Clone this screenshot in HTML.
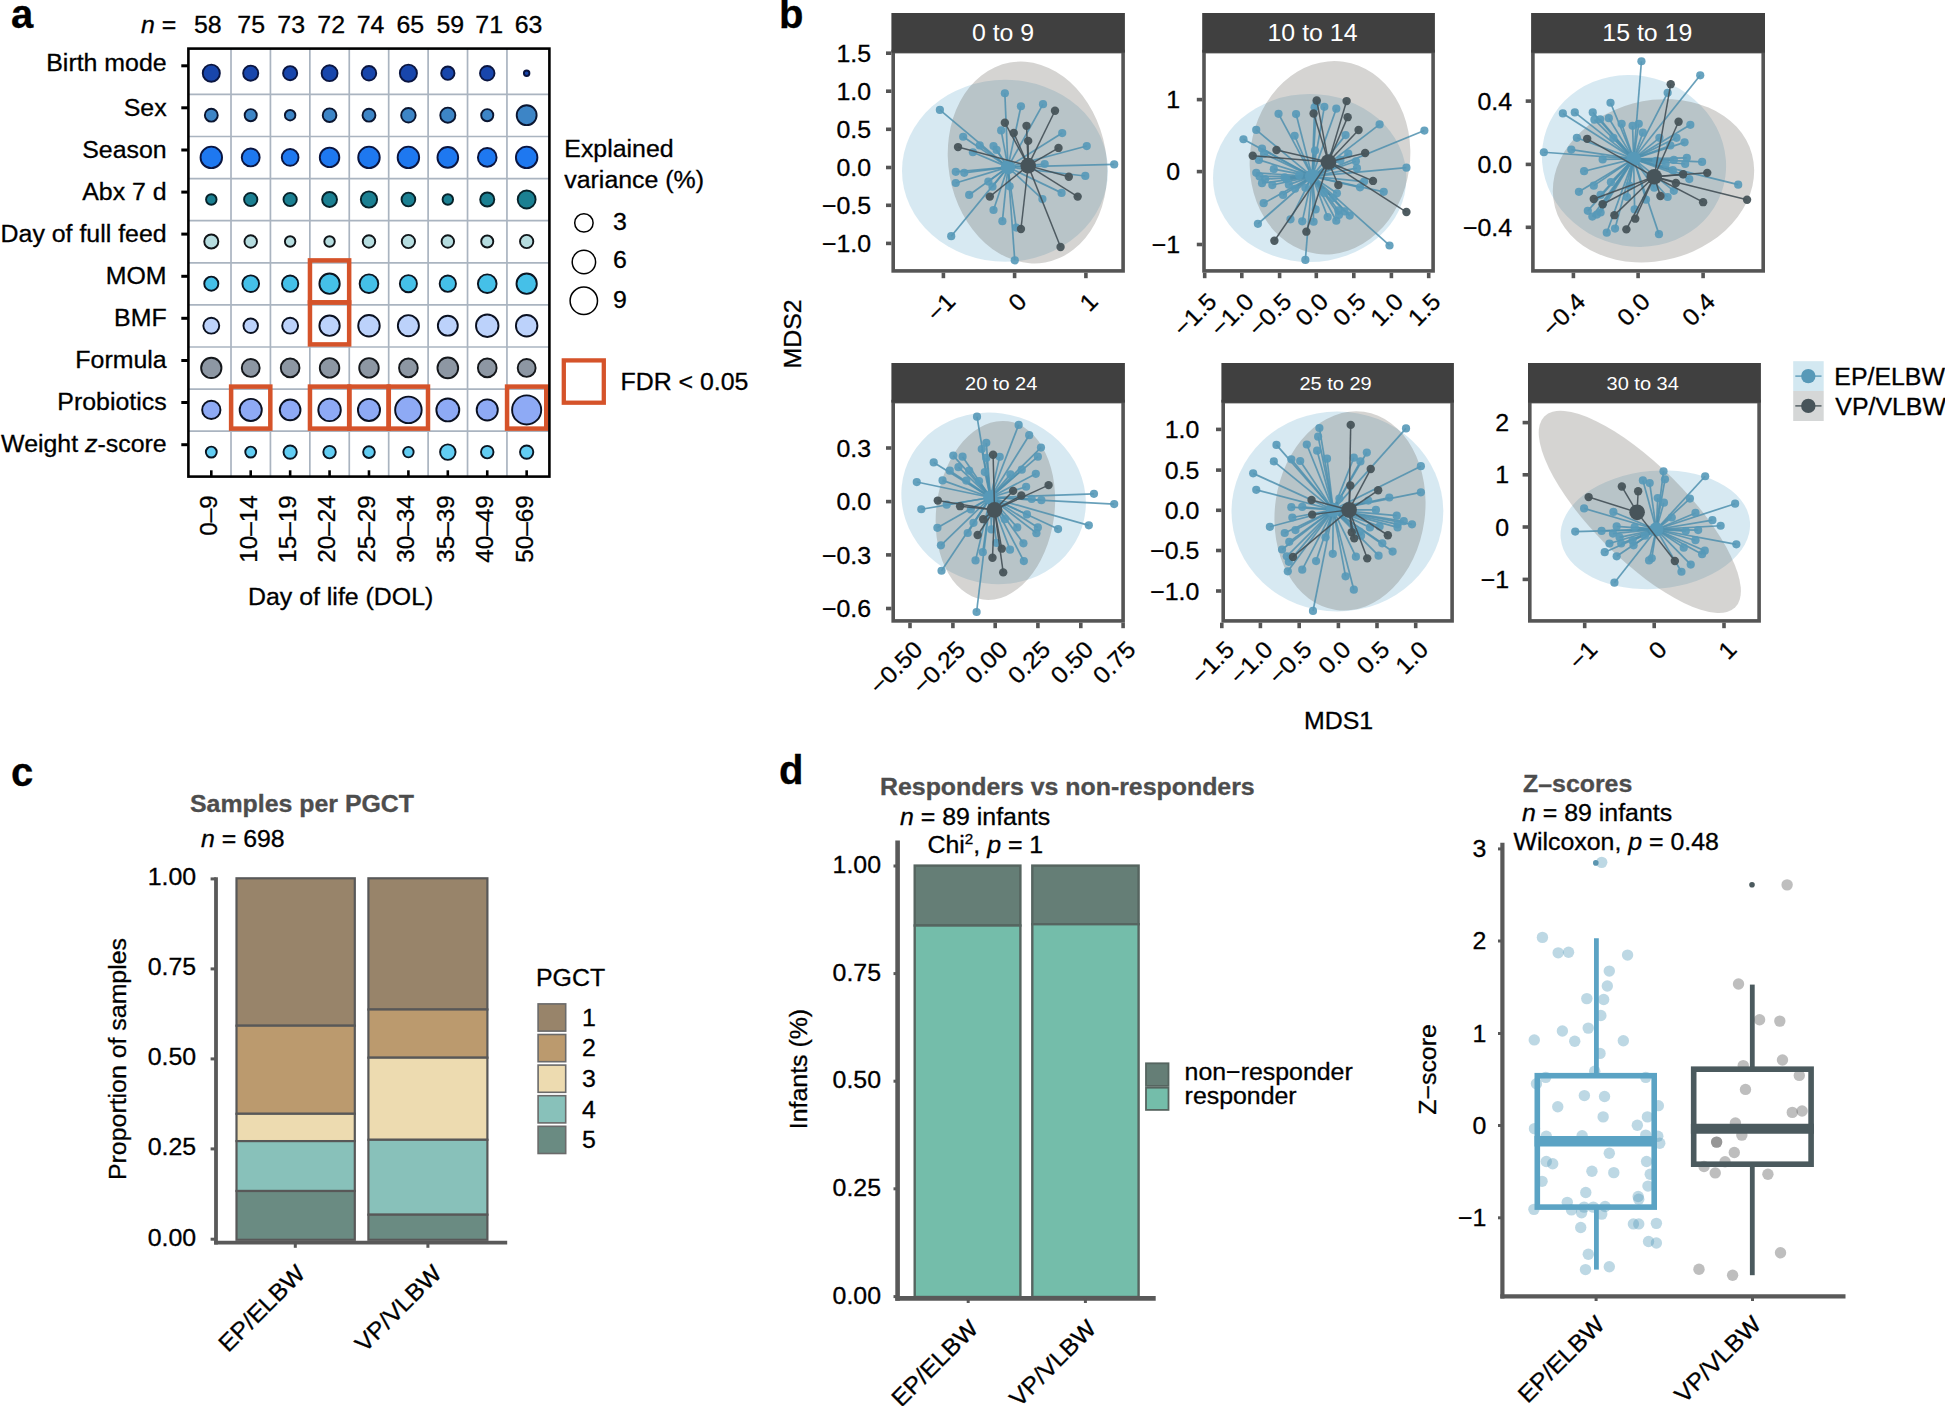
<!DOCTYPE html>
<html lang="en">
<head>
<meta charset="utf-8">
<title>Figure</title>
<style>
html,body{margin:0;padding:0;background:#fff;}
body{width:1945px;height:1406px;overflow:hidden;}
svg{display:block;font-family:"Liberation Sans",sans-serif;}
text{stroke-width:0.3px;}
</style>
</head>
<body>
<svg width="1945" height="1406" viewBox="0 0 1945 1406">
<rect width="1945" height="1406" fill="#fff"/>
<g id="panel-a">
<text font-size="40" font-weight="bold" stroke="#000" transform="translate(11 28) scale(1 1)">a</text>
<rect x="188.4" y="48.6" width="361" height="428" fill="#fff"/>
<line x1="231.01" y1="48.6" x2="231.01" y2="476.6" stroke="#aab4c0" stroke-width="1.7"/>
<line x1="270.43" y1="48.6" x2="270.43" y2="476.6" stroke="#aab4c0" stroke-width="1.7"/>
<line x1="309.85" y1="48.6" x2="309.85" y2="476.6" stroke="#aab4c0" stroke-width="1.7"/>
<line x1="349.27" y1="48.6" x2="349.27" y2="476.6" stroke="#aab4c0" stroke-width="1.7"/>
<line x1="388.69" y1="48.6" x2="388.69" y2="476.6" stroke="#aab4c0" stroke-width="1.7"/>
<line x1="428.11" y1="48.6" x2="428.11" y2="476.6" stroke="#aab4c0" stroke-width="1.7"/>
<line x1="467.53" y1="48.6" x2="467.53" y2="476.6" stroke="#aab4c0" stroke-width="1.7"/>
<line x1="506.95" y1="48.6" x2="506.95" y2="476.6" stroke="#aab4c0" stroke-width="1.7"/>
<line x1="188.4" y1="94.4" x2="549.4" y2="94.4" stroke="#aab4c0" stroke-width="1.7"/>
<line x1="188.4" y1="136.5" x2="549.4" y2="136.5" stroke="#aab4c0" stroke-width="1.7"/>
<line x1="188.4" y1="178.65" x2="549.4" y2="178.65" stroke="#aab4c0" stroke-width="1.7"/>
<line x1="188.4" y1="220.7" x2="549.4" y2="220.7" stroke="#aab4c0" stroke-width="1.7"/>
<line x1="188.4" y1="262.8" x2="549.4" y2="262.8" stroke="#aab4c0" stroke-width="1.7"/>
<line x1="188.4" y1="304.9" x2="549.4" y2="304.9" stroke="#aab4c0" stroke-width="1.7"/>
<line x1="188.4" y1="347" x2="549.4" y2="347" stroke="#aab4c0" stroke-width="1.7"/>
<line x1="188.4" y1="389.1" x2="549.4" y2="389.1" stroke="#aab4c0" stroke-width="1.7"/>
<line x1="188.4" y1="431.2" x2="549.4" y2="431.2" stroke="#aab4c0" stroke-width="1.7"/>
<text font-size="23.71" stroke="#000" transform="translate(141 32.8) scale(1.05 1)"><tspan font-style="italic">n</tspan> =</text>
<text font-size="23.71" text-anchor="middle" stroke="#000" transform="translate(207.75 32.8) scale(1.05 1)">58</text>
<text font-size="23.71" text-anchor="middle" stroke="#000" transform="translate(251.2 32.8) scale(1.05 1)">75</text>
<text font-size="23.71" text-anchor="middle" stroke="#000" transform="translate(291.2 32.8) scale(1.05 1)">73</text>
<text font-size="23.71" text-anchor="middle" stroke="#000" transform="translate(331.2 32.8) scale(1.05 1)">72</text>
<text font-size="23.71" text-anchor="middle" stroke="#000" transform="translate(370.6 32.8) scale(1.05 1)">74</text>
<text font-size="23.71" text-anchor="middle" stroke="#000" transform="translate(410.3 32.8) scale(1.05 1)">65</text>
<text font-size="23.71" text-anchor="middle" stroke="#000" transform="translate(450.3 32.8) scale(1.05 1)">59</text>
<text font-size="23.71" text-anchor="middle" stroke="#000" transform="translate(489.2 32.8) scale(1.05 1)">71</text>
<text font-size="23.71" text-anchor="middle" stroke="#000" transform="translate(528.6 32.8) scale(1.05 1)">63</text>
<text font-size="23.71" text-anchor="end" stroke="#000" transform="translate(166.6 71.2) scale(1.05 1)">Birth mode</text>
<line x1="181.3" y1="65.8" x2="188.4" y2="65.8" stroke="#000" stroke-width="3"/>
<text font-size="23.71" text-anchor="end" stroke="#000" transform="translate(166.6 115.9) scale(1.05 1)">Sex</text>
<line x1="181.3" y1="107.8" x2="188.4" y2="107.8" stroke="#000" stroke-width="3"/>
<text font-size="23.71" text-anchor="end" stroke="#000" transform="translate(166.6 158) scale(1.05 1)">Season</text>
<line x1="181.3" y1="150" x2="188.4" y2="150" stroke="#000" stroke-width="3"/>
<text font-size="23.71" text-anchor="end" stroke="#000" transform="translate(166.6 200) scale(1.05 1)">Abx 7 d</text>
<line x1="181.3" y1="192.1" x2="188.4" y2="192.1" stroke="#000" stroke-width="3"/>
<text font-size="23.71" text-anchor="end" stroke="#000" transform="translate(166.6 241.9) scale(1.05 1)">Day of full feed</text>
<line x1="181.3" y1="234.1" x2="188.4" y2="234.1" stroke="#000" stroke-width="3"/>
<text font-size="23.71" text-anchor="end" stroke="#000" transform="translate(166.6 283.9) scale(1.05 1)">MOM</text>
<line x1="181.3" y1="276.3" x2="188.4" y2="276.3" stroke="#000" stroke-width="3"/>
<text font-size="23.71" text-anchor="end" stroke="#000" transform="translate(166.6 326) scale(1.05 1)">BMF</text>
<line x1="181.3" y1="318.3" x2="188.4" y2="318.3" stroke="#000" stroke-width="3"/>
<text font-size="23.71" text-anchor="end" stroke="#000" transform="translate(166.6 368) scale(1.05 1)">Formula</text>
<line x1="181.3" y1="360.5" x2="188.4" y2="360.5" stroke="#000" stroke-width="3"/>
<text font-size="23.71" text-anchor="end" stroke="#000" transform="translate(166.6 410) scale(1.05 1)">Probiotics</text>
<line x1="181.3" y1="402.5" x2="188.4" y2="402.5" stroke="#000" stroke-width="3"/>
<text font-size="23.71" text-anchor="end" stroke="#000" transform="translate(166.6 452) scale(1.05 1)">Weight <tspan font-style="italic">z</tspan>-score</text>
<line x1="181.3" y1="444.7" x2="188.4" y2="444.7" stroke="#000" stroke-width="3"/>
<line x1="211.3" y1="470.3" x2="211.3" y2="476.6" stroke="#000" stroke-width="2.6"/>
<line x1="250.72" y1="470.3" x2="250.72" y2="476.6" stroke="#000" stroke-width="2.6"/>
<line x1="290.14" y1="470.3" x2="290.14" y2="476.6" stroke="#000" stroke-width="2.6"/>
<line x1="329.56" y1="470.3" x2="329.56" y2="476.6" stroke="#000" stroke-width="2.6"/>
<line x1="368.98" y1="470.3" x2="368.98" y2="476.6" stroke="#000" stroke-width="2.6"/>
<line x1="408.4" y1="470.3" x2="408.4" y2="476.6" stroke="#000" stroke-width="2.6"/>
<line x1="447.82" y1="470.3" x2="447.82" y2="476.6" stroke="#000" stroke-width="2.6"/>
<line x1="487.24" y1="470.3" x2="487.24" y2="476.6" stroke="#000" stroke-width="2.6"/>
<line x1="526.66" y1="470.3" x2="526.66" y2="476.6" stroke="#000" stroke-width="2.6"/>
<circle cx="211.3" cy="73.2" r="8.55" fill="#1846ac" stroke="#0a1540" stroke-width="1.9"/>
<circle cx="250.72" cy="73.2" r="7.55" fill="#1846ac" stroke="#0a1540" stroke-width="1.9"/>
<circle cx="290.14" cy="73.2" r="7.05" fill="#1846ac" stroke="#0a1540" stroke-width="1.9"/>
<circle cx="329.56" cy="73.2" r="7.95" fill="#1846ac" stroke="#0a1540" stroke-width="1.9"/>
<circle cx="368.98" cy="73.2" r="7.25" fill="#1846ac" stroke="#0a1540" stroke-width="1.9"/>
<circle cx="408.4" cy="73.2" r="8.55" fill="#1846ac" stroke="#0a1540" stroke-width="1.9"/>
<circle cx="447.82" cy="73.2" r="6.65" fill="#1846ac" stroke="#0a1540" stroke-width="1.9"/>
<circle cx="487.24" cy="73.2" r="7.25" fill="#1846ac" stroke="#0a1540" stroke-width="1.9"/>
<circle cx="526.66" cy="73.2" r="2.75" fill="#1846ac" stroke="#0a1540" stroke-width="1.9"/>
<circle cx="211.3" cy="115.2" r="6.45" fill="#3d85c6" stroke="#0a1530" stroke-width="1.9"/>
<circle cx="250.72" cy="115.2" r="6.05" fill="#3d85c6" stroke="#0a1530" stroke-width="1.9"/>
<circle cx="290.14" cy="115.2" r="5.25" fill="#3d85c6" stroke="#0a1530" stroke-width="1.9"/>
<circle cx="329.56" cy="115.2" r="6.85" fill="#3d85c6" stroke="#0a1530" stroke-width="1.9"/>
<circle cx="368.98" cy="115.2" r="6.45" fill="#3d85c6" stroke="#0a1530" stroke-width="1.9"/>
<circle cx="408.4" cy="115.2" r="7.25" fill="#3d85c6" stroke="#0a1530" stroke-width="1.9"/>
<circle cx="447.82" cy="115.2" r="7.55" fill="#3d85c6" stroke="#0a1530" stroke-width="1.9"/>
<circle cx="487.24" cy="115.2" r="6.05" fill="#3d85c6" stroke="#0a1530" stroke-width="1.9"/>
<circle cx="526.66" cy="115.2" r="9.95" fill="#3d85c6" stroke="#0a1530" stroke-width="1.9"/>
<circle cx="211.3" cy="157.4" r="10.75" fill="#1e78f0" stroke="#0a1540" stroke-width="1.9"/>
<circle cx="250.72" cy="157.4" r="8.95" fill="#1e78f0" stroke="#0a1540" stroke-width="1.9"/>
<circle cx="290.14" cy="157.4" r="8.35" fill="#1e78f0" stroke="#0a1540" stroke-width="1.9"/>
<circle cx="329.56" cy="157.4" r="9.75" fill="#1e78f0" stroke="#0a1540" stroke-width="1.9"/>
<circle cx="368.98" cy="157.4" r="10.75" fill="#1e78f0" stroke="#0a1540" stroke-width="1.9"/>
<circle cx="408.4" cy="157.4" r="10.75" fill="#1e78f0" stroke="#0a1540" stroke-width="1.9"/>
<circle cx="447.82" cy="157.4" r="10.35" fill="#1e78f0" stroke="#0a1540" stroke-width="1.9"/>
<circle cx="487.24" cy="157.4" r="9.35" fill="#1e78f0" stroke="#0a1540" stroke-width="1.9"/>
<circle cx="526.66" cy="157.4" r="10.75" fill="#1e78f0" stroke="#0a1540" stroke-width="1.9"/>
<circle cx="211.3" cy="199.5" r="5.25" fill="#1b8092" stroke="#06222a" stroke-width="1.9"/>
<circle cx="250.72" cy="199.5" r="6.65" fill="#1b8092" stroke="#06222a" stroke-width="1.9"/>
<circle cx="290.14" cy="199.5" r="6.65" fill="#1b8092" stroke="#06222a" stroke-width="1.9"/>
<circle cx="329.56" cy="199.5" r="7.45" fill="#1b8092" stroke="#06222a" stroke-width="1.9"/>
<circle cx="368.98" cy="199.5" r="8.15" fill="#1b8092" stroke="#06222a" stroke-width="1.9"/>
<circle cx="408.4" cy="199.5" r="6.85" fill="#1b8092" stroke="#06222a" stroke-width="1.9"/>
<circle cx="447.82" cy="199.5" r="5.25" fill="#1b8092" stroke="#06222a" stroke-width="1.9"/>
<circle cx="487.24" cy="199.5" r="7.05" fill="#1b8092" stroke="#06222a" stroke-width="1.9"/>
<circle cx="526.66" cy="199.5" r="8.95" fill="#1b8092" stroke="#06222a" stroke-width="1.9"/>
<circle cx="211.3" cy="241.5" r="7.05" fill="#b6dde0" stroke="#101418" stroke-width="1.9"/>
<circle cx="250.72" cy="241.5" r="6.25" fill="#b6dde0" stroke="#101418" stroke-width="1.9"/>
<circle cx="290.14" cy="241.5" r="5.25" fill="#b6dde0" stroke="#101418" stroke-width="1.9"/>
<circle cx="329.56" cy="241.5" r="5.25" fill="#b6dde0" stroke="#101418" stroke-width="1.9"/>
<circle cx="368.98" cy="241.5" r="6.25" fill="#b6dde0" stroke="#101418" stroke-width="1.9"/>
<circle cx="408.4" cy="241.5" r="6.65" fill="#b6dde0" stroke="#101418" stroke-width="1.9"/>
<circle cx="447.82" cy="241.5" r="6.25" fill="#b6dde0" stroke="#101418" stroke-width="1.9"/>
<circle cx="487.24" cy="241.5" r="6.05" fill="#b6dde0" stroke="#101418" stroke-width="1.9"/>
<circle cx="526.66" cy="241.5" r="6.65" fill="#b6dde0" stroke="#101418" stroke-width="1.9"/>
<circle cx="211.3" cy="283.7" r="7.05" fill="#45c0e8" stroke="#0a1420" stroke-width="1.9"/>
<circle cx="250.72" cy="283.7" r="8.35" fill="#45c0e8" stroke="#0a1420" stroke-width="1.9"/>
<circle cx="290.14" cy="283.7" r="8.15" fill="#45c0e8" stroke="#0a1420" stroke-width="1.9"/>
<circle cx="329.56" cy="283.7" r="10.15" fill="#45c0e8" stroke="#0a1420" stroke-width="1.9"/>
<circle cx="368.98" cy="283.7" r="9.35" fill="#45c0e8" stroke="#0a1420" stroke-width="1.9"/>
<circle cx="408.4" cy="283.7" r="8.55" fill="#45c0e8" stroke="#0a1420" stroke-width="1.9"/>
<circle cx="447.82" cy="283.7" r="8.15" fill="#45c0e8" stroke="#0a1420" stroke-width="1.9"/>
<circle cx="487.24" cy="283.7" r="9.35" fill="#45c0e8" stroke="#0a1420" stroke-width="1.9"/>
<circle cx="526.66" cy="283.7" r="10.15" fill="#45c0e8" stroke="#0a1420" stroke-width="1.9"/>
<circle cx="211.3" cy="325.7" r="7.95" fill="#bcd2fb" stroke="#0a1020" stroke-width="1.9"/>
<circle cx="250.72" cy="325.7" r="7.25" fill="#bcd2fb" stroke="#0a1020" stroke-width="1.9"/>
<circle cx="290.14" cy="325.7" r="7.95" fill="#bcd2fb" stroke="#0a1020" stroke-width="1.9"/>
<circle cx="329.56" cy="325.7" r="10.15" fill="#bcd2fb" stroke="#0a1020" stroke-width="1.9"/>
<circle cx="368.98" cy="325.7" r="10.75" fill="#bcd2fb" stroke="#0a1020" stroke-width="1.9"/>
<circle cx="408.4" cy="325.7" r="10.55" fill="#bcd2fb" stroke="#0a1020" stroke-width="1.9"/>
<circle cx="447.82" cy="325.7" r="9.95" fill="#bcd2fb" stroke="#0a1020" stroke-width="1.9"/>
<circle cx="487.24" cy="325.7" r="11.25" fill="#bcd2fb" stroke="#0a1020" stroke-width="1.9"/>
<circle cx="526.66" cy="325.7" r="10.75" fill="#bcd2fb" stroke="#0a1020" stroke-width="1.9"/>
<circle cx="211.3" cy="367.9" r="10.15" fill="#8d97a3" stroke="#15181c" stroke-width="1.9"/>
<circle cx="250.72" cy="367.9" r="8.95" fill="#8d97a3" stroke="#15181c" stroke-width="1.9"/>
<circle cx="290.14" cy="367.9" r="9.35" fill="#8d97a3" stroke="#15181c" stroke-width="1.9"/>
<circle cx="329.56" cy="367.9" r="9.75" fill="#8d97a3" stroke="#15181c" stroke-width="1.9"/>
<circle cx="368.98" cy="367.9" r="9.75" fill="#8d97a3" stroke="#15181c" stroke-width="1.9"/>
<circle cx="408.4" cy="367.9" r="9.35" fill="#8d97a3" stroke="#15181c" stroke-width="1.9"/>
<circle cx="447.82" cy="367.9" r="10.35" fill="#8d97a3" stroke="#15181c" stroke-width="1.9"/>
<circle cx="487.24" cy="367.9" r="9.35" fill="#8d97a3" stroke="#15181c" stroke-width="1.9"/>
<circle cx="526.66" cy="367.9" r="8.95" fill="#8d97a3" stroke="#15181c" stroke-width="1.9"/>
<circle cx="211.3" cy="409.9" r="9.15" fill="#8eaaf5" stroke="#0a1020" stroke-width="1.9"/>
<circle cx="250.72" cy="409.9" r="11.05" fill="#8eaaf5" stroke="#0a1020" stroke-width="1.9"/>
<circle cx="290.14" cy="409.9" r="10.35" fill="#8eaaf5" stroke="#0a1020" stroke-width="1.9"/>
<circle cx="329.56" cy="409.9" r="11.25" fill="#8eaaf5" stroke="#0a1020" stroke-width="1.9"/>
<circle cx="368.98" cy="409.9" r="11.05" fill="#8eaaf5" stroke="#0a1020" stroke-width="1.9"/>
<circle cx="408.4" cy="409.9" r="13.25" fill="#8eaaf5" stroke="#0a1020" stroke-width="1.9"/>
<circle cx="447.82" cy="409.9" r="11.45" fill="#8eaaf5" stroke="#0a1020" stroke-width="1.9"/>
<circle cx="487.24" cy="409.9" r="10.55" fill="#8eaaf5" stroke="#0a1020" stroke-width="1.9"/>
<circle cx="526.66" cy="409.9" r="14.55" fill="#8eaaf5" stroke="#0a1020" stroke-width="1.9"/>
<circle cx="211.3" cy="452.1" r="5.45" fill="#62cdf3" stroke="#0a1420" stroke-width="1.9"/>
<circle cx="250.72" cy="452.1" r="5.45" fill="#62cdf3" stroke="#0a1420" stroke-width="1.9"/>
<circle cx="290.14" cy="452.1" r="6.65" fill="#62cdf3" stroke="#0a1420" stroke-width="1.9"/>
<circle cx="329.56" cy="452.1" r="6.25" fill="#62cdf3" stroke="#0a1420" stroke-width="1.9"/>
<circle cx="368.98" cy="452.1" r="5.85" fill="#62cdf3" stroke="#0a1420" stroke-width="1.9"/>
<circle cx="408.4" cy="452.1" r="5.25" fill="#62cdf3" stroke="#0a1420" stroke-width="1.9"/>
<circle cx="447.82" cy="452.1" r="7.75" fill="#62cdf3" stroke="#0a1420" stroke-width="1.9"/>
<circle cx="487.24" cy="452.1" r="6.25" fill="#62cdf3" stroke="#0a1420" stroke-width="1.9"/>
<circle cx="526.66" cy="452.1" r="6.65" fill="#62cdf3" stroke="#0a1420" stroke-width="1.9"/>
<rect x="309.96" y="260.4" width="39.2" height="42" fill="none" stroke="#d5532a" stroke-width="4.5"/>
<rect x="309.96" y="302.4" width="39.2" height="42" fill="none" stroke="#d5532a" stroke-width="4.5"/>
<rect x="231.12" y="386.6" width="39.2" height="42" fill="none" stroke="#d5532a" stroke-width="4.5"/>
<rect x="309.96" y="386.6" width="39.2" height="42" fill="none" stroke="#d5532a" stroke-width="4.5"/>
<rect x="349.38" y="386.6" width="39.2" height="42" fill="none" stroke="#d5532a" stroke-width="4.5"/>
<rect x="388.8" y="386.6" width="39.2" height="42" fill="none" stroke="#d5532a" stroke-width="4.5"/>
<rect x="507.06" y="386.6" width="39.2" height="42" fill="none" stroke="#d5532a" stroke-width="4.5"/>
<rect x="188.4" y="48.6" width="361" height="428" fill="none" stroke="#000" stroke-width="2.6"/>
<text font-size="23.12" text-anchor="end" stroke="#000" transform="translate(217.2 495.2) rotate(-90) scale(1.05 1)">0–9</text>
<text font-size="23.12" text-anchor="end" stroke="#000" transform="translate(256.62 495.2) rotate(-90) scale(1.05 1)">10–14</text>
<text font-size="23.12" text-anchor="end" stroke="#000" transform="translate(296.04 495.2) rotate(-90) scale(1.05 1)">15–19</text>
<text font-size="23.12" text-anchor="end" stroke="#000" transform="translate(335.46 495.2) rotate(-90) scale(1.05 1)">20–24</text>
<text font-size="23.12" text-anchor="end" stroke="#000" transform="translate(374.88 495.2) rotate(-90) scale(1.05 1)">25–29</text>
<text font-size="23.12" text-anchor="end" stroke="#000" transform="translate(414.3 495.2) rotate(-90) scale(1.05 1)">30–34</text>
<text font-size="23.12" text-anchor="end" stroke="#000" transform="translate(453.72 495.2) rotate(-90) scale(1.05 1)">35–39</text>
<text font-size="23.12" text-anchor="end" stroke="#000" transform="translate(493.14 495.2) rotate(-90) scale(1.05 1)">40–49</text>
<text font-size="23.12" text-anchor="end" stroke="#000" transform="translate(532.56 495.2) rotate(-90) scale(1.05 1)">50–69</text>
<text font-size="23.71" stroke="#000" transform="translate(248 605) scale(1.05 1)">Day of life (DOL)</text>
<text font-size="23.71" stroke="#000" transform="translate(564.3 157.4) scale(1.05 1)">Explained</text>
<text font-size="23.71" stroke="#000" transform="translate(564.3 187.7) scale(1.05 1)">variance (%)</text>
<circle cx="583.9" cy="222.9" r="9.2" fill="#fff" stroke="#000" stroke-width="1.5"/>
<circle cx="583.9" cy="262" r="11.7" fill="#fff" stroke="#000" stroke-width="1.5"/>
<circle cx="583.8" cy="300.8" r="13.7" fill="#fff" stroke="#000" stroke-width="1.5"/>
<text font-size="23.71" stroke="#000" transform="translate(613 229.8) scale(1.05 1)">3</text>
<text font-size="23.71" stroke="#000" transform="translate(613 268.4) scale(1.05 1)">6</text>
<text font-size="23.71" stroke="#000" transform="translate(613 307.5) scale(1.05 1)">9</text>
<rect x="563.8" y="360.4" width="40" height="42.3" fill="none" stroke="#d5532a" stroke-width="4.3"/>
<text font-size="23.71" stroke="#000" transform="translate(620.5 389.5) scale(1.05 1)">FDR &lt; 0.05</text>
</g>
<g id="panel-b">
<text font-size="40" font-weight="bold" stroke="#000" transform="translate(779 28) scale(1 1)">b</text>
<g>
<clipPath id="cp1"><rect x="893.2" y="52.6" width="229.9" height="218.3"/></clipPath>
<g clip-path="url(#cp1)">
<ellipse cx="1005" cy="170.7" rx="103" ry="91" fill="#6fb0d0" fill-opacity="0.28" transform="rotate(0 1005 170.7)"/>
<ellipse cx="1027.5" cy="162.5" rx="79" ry="101.5" fill="#625f5a" fill-opacity="0.27" transform="rotate(-10 1027.5 162.5)"/>
<g stroke="#4d8fae" stroke-width="1.7" stroke-opacity="0.85">
<line x1="1004.86" y1="93.24" x2="1007.95" y2="167.1"/>
<line x1="1020.95" y1="106.24" x2="1007.95" y2="167.1"/>
<line x1="1043.02" y1="104.18" x2="1007.95" y2="167.1"/>
<line x1="939.88" y1="109.95" x2="1007.95" y2="167.1"/>
<line x1="1001.14" y1="130.38" x2="1007.95" y2="167.1"/>
<line x1="1062.21" y1="133.06" x2="1007.95" y2="167.1"/>
<line x1="963.19" y1="136.77" x2="1007.95" y2="167.1"/>
<line x1="979.69" y1="145.44" x2="1007.95" y2="167.1"/>
<line x1="993.51" y1="146.05" x2="1007.95" y2="167.1"/>
<line x1="996.61" y1="149.97" x2="1007.95" y2="167.1"/>
<line x1="972.88" y1="152.24" x2="1007.95" y2="167.1"/>
<line x1="1086.76" y1="146.05" x2="1007.95" y2="167.1"/>
<line x1="1114.19" y1="164.41" x2="1007.95" y2="167.1"/>
<line x1="1044.67" y1="164" x2="1007.95" y2="167.1"/>
<line x1="955.76" y1="171.84" x2="1007.95" y2="167.1"/>
<line x1="964.22" y1="172.87" x2="1007.95" y2="167.1"/>
<line x1="1085.31" y1="175.97" x2="1007.95" y2="167.1"/>
<line x1="955.76" y1="182.98" x2="1007.95" y2="167.1"/>
<line x1="988.35" y1="181.54" x2="1007.95" y2="167.1"/>
<line x1="992.48" y1="186.69" x2="1007.95" y2="167.1"/>
<line x1="1009.6" y1="186.28" x2="1007.95" y2="167.1"/>
<line x1="969.17" y1="194.95" x2="1007.95" y2="167.1"/>
<line x1="1061.59" y1="192.88" x2="1007.95" y2="167.1"/>
<line x1="1042.4" y1="199.07" x2="1007.95" y2="167.1"/>
<line x1="993.51" y1="210.01" x2="1007.95" y2="167.1"/>
<line x1="1002.38" y1="221.14" x2="1007.95" y2="167.1"/>
<line x1="1016.2" y1="227.54" x2="1007.95" y2="167.1"/>
<line x1="951.22" y1="236.2" x2="1007.95" y2="167.1"/>
<line x1="1014.76" y1="260.34" x2="1007.95" y2="167.1"/>
</g>
<g fill="#5799b8" fill-opacity="0.9">
<circle cx="1004.86" cy="93.24" r="4.1"/>
<circle cx="1020.95" cy="106.24" r="4.1"/>
<circle cx="1043.02" cy="104.18" r="4.1"/>
<circle cx="939.88" cy="109.95" r="4.1"/>
<circle cx="1001.14" cy="130.38" r="4.1"/>
<circle cx="1062.21" cy="133.06" r="4.1"/>
<circle cx="963.19" cy="136.77" r="4.1"/>
<circle cx="979.69" cy="145.44" r="4.1"/>
<circle cx="993.51" cy="146.05" r="4.1"/>
<circle cx="996.61" cy="149.97" r="4.1"/>
<circle cx="972.88" cy="152.24" r="4.1"/>
<circle cx="1086.76" cy="146.05" r="4.1"/>
<circle cx="1114.19" cy="164.41" r="4.1"/>
<circle cx="1044.67" cy="164" r="4.1"/>
<circle cx="955.76" cy="171.84" r="4.1"/>
<circle cx="964.22" cy="172.87" r="4.1"/>
<circle cx="1085.31" cy="175.97" r="4.1"/>
<circle cx="955.76" cy="182.98" r="4.1"/>
<circle cx="988.35" cy="181.54" r="4.1"/>
<circle cx="992.48" cy="186.69" r="4.1"/>
<circle cx="1009.6" cy="186.28" r="4.1"/>
<circle cx="969.17" cy="194.95" r="4.1"/>
<circle cx="1061.59" cy="192.88" r="4.1"/>
<circle cx="1042.4" cy="199.07" r="4.1"/>
<circle cx="993.51" cy="210.01" r="4.1"/>
<circle cx="1002.38" cy="221.14" r="4.1"/>
<circle cx="1016.2" cy="227.54" r="4.1"/>
<circle cx="951.22" cy="236.2" r="4.1"/>
<circle cx="1014.76" cy="260.34" r="4.1"/>
</g>
<circle cx="1007.95" cy="167.1" r="7.2" fill="#5799b8"/>
<g stroke="#434f55" stroke-width="1.5" stroke-opacity="0.9">
<line x1="1054.99" y1="110.78" x2="1028.17" y2="165.65"/>
<line x1="1004.86" y1="122.74" x2="1028.17" y2="165.65"/>
<line x1="1026.52" y1="125.84" x2="1028.17" y2="165.65"/>
<line x1="1013.73" y1="133.06" x2="1028.17" y2="165.65"/>
<line x1="1028.17" y1="140.9" x2="1028.17" y2="165.65"/>
<line x1="958.03" y1="147.09" x2="1028.17" y2="165.65"/>
<line x1="1058.49" y1="147.91" x2="1028.17" y2="165.65"/>
<line x1="1068.81" y1="176.79" x2="1028.17" y2="165.65"/>
<line x1="1077.68" y1="196.6" x2="1028.17" y2="165.65"/>
<line x1="989.8" y1="196.6" x2="1028.17" y2="165.65"/>
<line x1="1020.95" y1="228.98" x2="1028.17" y2="165.65"/>
<line x1="1060.56" y1="246.93" x2="1028.17" y2="165.65"/>
</g>
<g fill="#47545a" fill-opacity="0.95">
<circle cx="1054.99" cy="110.78" r="4.2"/>
<circle cx="1004.86" cy="122.74" r="4.2"/>
<circle cx="1026.52" cy="125.84" r="4.2"/>
<circle cx="1013.73" cy="133.06" r="4.2"/>
<circle cx="1028.17" cy="140.9" r="4.2"/>
<circle cx="958.03" cy="147.09" r="4.2"/>
<circle cx="1058.49" cy="147.91" r="4.2"/>
<circle cx="1068.81" cy="176.79" r="4.2"/>
<circle cx="1077.68" cy="196.6" r="4.2"/>
<circle cx="989.8" cy="196.6" r="4.2"/>
<circle cx="1020.95" cy="228.98" r="4.2"/>
<circle cx="1060.56" cy="246.93" r="4.2"/>
</g>
<circle cx="1028.17" cy="165.65" r="7.8" fill="#47545a"/>
</g>
<rect x="893.2" y="51.6" width="229.9" height="219.3" fill="none" stroke="#555555" stroke-width="3.6"/>
<rect x="891.4" y="13" width="233.5" height="39.6" fill="#404040"/>
<text font-size="23.71" text-anchor="middle" fill="#fff" transform="translate(1003 41.3) scale(1.05 1)">0 to 9</text>
<line x1="886" y1="53.2" x2="891.4" y2="53.2" stroke="#555555" stroke-width="3.6"/>
<text font-size="23.71" text-anchor="end" stroke="#000" transform="translate(871 61.8) scale(1.05 1)">1.5</text>
<line x1="886" y1="91.2" x2="891.4" y2="91.2" stroke="#555555" stroke-width="3.6"/>
<text font-size="23.71" text-anchor="end" stroke="#000" transform="translate(871 99.8) scale(1.05 1)">1.0</text>
<line x1="886" y1="129.3" x2="891.4" y2="129.3" stroke="#555555" stroke-width="3.6"/>
<text font-size="23.71" text-anchor="end" stroke="#000" transform="translate(871 137.9) scale(1.05 1)">0.5</text>
<line x1="886" y1="167.5" x2="891.4" y2="167.5" stroke="#555555" stroke-width="3.6"/>
<text font-size="23.71" text-anchor="end" stroke="#000" transform="translate(871 176.1) scale(1.05 1)">0.0</text>
<line x1="886" y1="205.3" x2="891.4" y2="205.3" stroke="#555555" stroke-width="3.6"/>
<text font-size="23.71" text-anchor="end" stroke="#000" transform="translate(871 213.9) scale(1.05 1)">−0.5</text>
<line x1="886" y1="243.4" x2="891.4" y2="243.4" stroke="#555555" stroke-width="3.6"/>
<text font-size="23.71" text-anchor="end" stroke="#000" transform="translate(871 252) scale(1.05 1)">−1.0</text>
<line x1="943.4" y1="272.7" x2="943.4" y2="278.2" stroke="#555555" stroke-width="3.6"/>
<text font-size="23.71" text-anchor="end" stroke="#000" transform="translate(956.8 303) rotate(-45) scale(1.05 1)">−1</text>
<line x1="1014.6" y1="272.7" x2="1014.6" y2="278.2" stroke="#555555" stroke-width="3.6"/>
<text font-size="23.71" text-anchor="end" stroke="#000" transform="translate(1028 303) rotate(-45) scale(1.05 1)">0</text>
<line x1="1085.9" y1="272.7" x2="1085.9" y2="278.2" stroke="#555555" stroke-width="3.6"/>
<text font-size="23.71" text-anchor="end" stroke="#000" transform="translate(1099.3 303) rotate(-45) scale(1.05 1)">1</text>
</g>
<g>
<clipPath id="cp2"><rect x="1204" y="52.6" width="229.1" height="218.3"/></clipPath>
<g clip-path="url(#cp2)">
<ellipse cx="1309.7" cy="178" rx="96.7" ry="84" fill="#6fb0d0" fill-opacity="0.28" transform="rotate(0 1309.7 178)"/>
<ellipse cx="1330" cy="157.8" rx="80" ry="97" fill="#625f5a" fill-opacity="0.27" transform="rotate(8 1330 157.8)"/>
<g stroke="#4d8fae" stroke-width="1.7" stroke-opacity="0.85">
<line x1="1424.38" y1="130.58" x2="1312.16" y2="176.38"/>
<line x1="1379.61" y1="124.39" x2="1312.16" y2="176.38"/>
<line x1="1406.43" y1="167.72" x2="1312.16" y2="176.38"/>
<line x1="1389.52" y1="245.49" x2="1312.16" y2="176.38"/>
<line x1="1305.35" y1="259.93" x2="1312.16" y2="176.38"/>
<line x1="1257.9" y1="223.83" x2="1312.16" y2="176.38"/>
<line x1="1263.68" y1="203.2" x2="1312.16" y2="176.38"/>
<line x1="1243.46" y1="139.25" x2="1312.16" y2="176.38"/>
<line x1="1256.25" y1="129.96" x2="1312.16" y2="176.38"/>
<line x1="1278.53" y1="113.87" x2="1312.16" y2="176.38"/>
<line x1="1296.06" y1="114.08" x2="1312.16" y2="176.38"/>
<line x1="1316.69" y1="102.53" x2="1312.16" y2="176.38"/>
<line x1="1314.63" y1="107.27" x2="1312.16" y2="176.38"/>
<line x1="1324.33" y1="106.86" x2="1312.16" y2="176.38"/>
<line x1="1336.29" y1="108.72" x2="1312.16" y2="176.38"/>
<line x1="1294.62" y1="135.74" x2="1312.16" y2="176.38"/>
<line x1="1345.58" y1="135.12" x2="1312.16" y2="176.38"/>
<line x1="1262.03" y1="148.53" x2="1312.16" y2="176.38"/>
<line x1="1264.09" y1="153.69" x2="1312.16" y2="176.38"/>
<line x1="1258.93" y1="159.88" x2="1312.16" y2="176.38"/>
<line x1="1315.04" y1="150.59" x2="1312.16" y2="176.38"/>
<line x1="1348.26" y1="153.69" x2="1312.16" y2="176.38"/>
<line x1="1355.89" y1="161.32" x2="1312.16" y2="176.38"/>
<line x1="1356.92" y1="168.13" x2="1312.16" y2="176.38"/>
<line x1="1340.42" y1="159.88" x2="1312.16" y2="176.38"/>
<line x1="1273.79" y1="169.16" x2="1312.16" y2="176.38"/>
<line x1="1256.25" y1="172.87" x2="1312.16" y2="176.38"/>
<line x1="1259.55" y1="176.38" x2="1312.16" y2="176.38"/>
<line x1="1265.12" y1="179.06" x2="1312.16" y2="176.38"/>
<line x1="1262.03" y1="183.19" x2="1312.16" y2="176.38"/>
<line x1="1272.34" y1="185.04" x2="1312.16" y2="176.38"/>
<line x1="1286.37" y1="179.06" x2="1312.16" y2="176.38"/>
<line x1="1288.84" y1="184.63" x2="1312.16" y2="176.38"/>
<line x1="1295.03" y1="188.76" x2="1312.16" y2="176.38"/>
<line x1="1305.35" y1="187.73" x2="1312.16" y2="176.38"/>
<line x1="1283.07" y1="194.95" x2="1312.16" y2="176.38"/>
<line x1="1323.91" y1="192.88" x2="1312.16" y2="176.38"/>
<line x1="1336.91" y1="193.3" x2="1312.16" y2="176.38"/>
<line x1="1333.2" y1="198.04" x2="1312.16" y2="176.38"/>
<line x1="1360.02" y1="187.31" x2="1312.16" y2="176.38"/>
<line x1="1364.14" y1="181.54" x2="1312.16" y2="176.38"/>
<line x1="1383.74" y1="191.85" x2="1312.16" y2="176.38"/>
<line x1="1315.66" y1="209.39" x2="1312.16" y2="176.38"/>
<line x1="1338.35" y1="210.42" x2="1312.16" y2="176.38"/>
<line x1="1344.54" y1="211.45" x2="1312.16" y2="176.38"/>
<line x1="1349.7" y1="215.58" x2="1312.16" y2="176.38"/>
<line x1="1336.29" y1="220.73" x2="1312.16" y2="176.38"/>
<line x1="1327.63" y1="217.02" x2="1312.16" y2="176.38"/>
<line x1="1313.6" y1="221.76" x2="1312.16" y2="176.38"/>
<line x1="1302.25" y1="221.35" x2="1312.16" y2="176.38"/>
<line x1="1290.5" y1="219.29" x2="1312.16" y2="176.38"/>
<line x1="1338.97" y1="214.96" x2="1312.16" y2="176.38"/>
<line x1="1284.72" y1="177.41" x2="1312.16" y2="176.38"/>
<line x1="1299.16" y1="175.35" x2="1312.16" y2="176.38"/>
</g>
<g fill="#5799b8" fill-opacity="0.9">
<circle cx="1424.38" cy="130.58" r="4.1"/>
<circle cx="1379.61" cy="124.39" r="4.1"/>
<circle cx="1406.43" cy="167.72" r="4.1"/>
<circle cx="1389.52" cy="245.49" r="4.1"/>
<circle cx="1305.35" cy="259.93" r="4.1"/>
<circle cx="1257.9" cy="223.83" r="4.1"/>
<circle cx="1263.68" cy="203.2" r="4.1"/>
<circle cx="1243.46" cy="139.25" r="4.1"/>
<circle cx="1256.25" cy="129.96" r="4.1"/>
<circle cx="1278.53" cy="113.87" r="4.1"/>
<circle cx="1296.06" cy="114.08" r="4.1"/>
<circle cx="1316.69" cy="102.53" r="4.1"/>
<circle cx="1314.63" cy="107.27" r="4.1"/>
<circle cx="1324.33" cy="106.86" r="4.1"/>
<circle cx="1336.29" cy="108.72" r="4.1"/>
<circle cx="1294.62" cy="135.74" r="4.1"/>
<circle cx="1345.58" cy="135.12" r="4.1"/>
<circle cx="1262.03" cy="148.53" r="4.1"/>
<circle cx="1264.09" cy="153.69" r="4.1"/>
<circle cx="1258.93" cy="159.88" r="4.1"/>
<circle cx="1315.04" cy="150.59" r="4.1"/>
<circle cx="1348.26" cy="153.69" r="4.1"/>
<circle cx="1355.89" cy="161.32" r="4.1"/>
<circle cx="1356.92" cy="168.13" r="4.1"/>
<circle cx="1340.42" cy="159.88" r="4.1"/>
<circle cx="1273.79" cy="169.16" r="4.1"/>
<circle cx="1256.25" cy="172.87" r="4.1"/>
<circle cx="1259.55" cy="176.38" r="4.1"/>
<circle cx="1265.12" cy="179.06" r="4.1"/>
<circle cx="1262.03" cy="183.19" r="4.1"/>
<circle cx="1272.34" cy="185.04" r="4.1"/>
<circle cx="1286.37" cy="179.06" r="4.1"/>
<circle cx="1288.84" cy="184.63" r="4.1"/>
<circle cx="1295.03" cy="188.76" r="4.1"/>
<circle cx="1305.35" cy="187.73" r="4.1"/>
<circle cx="1283.07" cy="194.95" r="4.1"/>
<circle cx="1323.91" cy="192.88" r="4.1"/>
<circle cx="1336.91" cy="193.3" r="4.1"/>
<circle cx="1333.2" cy="198.04" r="4.1"/>
<circle cx="1360.02" cy="187.31" r="4.1"/>
<circle cx="1364.14" cy="181.54" r="4.1"/>
<circle cx="1383.74" cy="191.85" r="4.1"/>
<circle cx="1315.66" cy="209.39" r="4.1"/>
<circle cx="1338.35" cy="210.42" r="4.1"/>
<circle cx="1344.54" cy="211.45" r="4.1"/>
<circle cx="1349.7" cy="215.58" r="4.1"/>
<circle cx="1336.29" cy="220.73" r="4.1"/>
<circle cx="1327.63" cy="217.02" r="4.1"/>
<circle cx="1313.6" cy="221.76" r="4.1"/>
<circle cx="1302.25" cy="221.35" r="4.1"/>
<circle cx="1290.5" cy="219.29" r="4.1"/>
<circle cx="1338.97" cy="214.96" r="4.1"/>
<circle cx="1284.72" cy="177.41" r="4.1"/>
<circle cx="1299.16" cy="175.35" r="4.1"/>
</g>
<circle cx="1312.16" cy="176.38" r="7.2" fill="#5799b8"/>
<g stroke="#434f55" stroke-width="1.5" stroke-opacity="0.9">
<line x1="1346.61" y1="101.08" x2="1328.45" y2="161.94"/>
<line x1="1347.64" y1="117.17" x2="1328.45" y2="161.94"/>
<line x1="1313.6" y1="113.46" x2="1328.45" y2="161.94"/>
<line x1="1358.57" y1="129.96" x2="1328.45" y2="161.94"/>
<line x1="1276.47" y1="149.97" x2="1328.45" y2="161.94"/>
<line x1="1252.74" y1="155.75" x2="1328.45" y2="161.94"/>
<line x1="1365.17" y1="153.07" x2="1328.45" y2="161.94"/>
<line x1="1373.01" y1="180.92" x2="1328.45" y2="161.94"/>
<line x1="1338.35" y1="185.04" x2="1328.45" y2="161.94"/>
<line x1="1406.43" y1="212.07" x2="1328.45" y2="161.94"/>
<line x1="1306.38" y1="231.67" x2="1328.45" y2="161.94"/>
<line x1="1274.4" y1="240.74" x2="1328.45" y2="161.94"/>
<line x1="1316.69" y1="100.46" x2="1328.45" y2="161.94"/>
</g>
<g fill="#47545a" fill-opacity="0.95">
<circle cx="1346.61" cy="101.08" r="4.2"/>
<circle cx="1347.64" cy="117.17" r="4.2"/>
<circle cx="1313.6" cy="113.46" r="4.2"/>
<circle cx="1358.57" cy="129.96" r="4.2"/>
<circle cx="1276.47" cy="149.97" r="4.2"/>
<circle cx="1252.74" cy="155.75" r="4.2"/>
<circle cx="1365.17" cy="153.07" r="4.2"/>
<circle cx="1373.01" cy="180.92" r="4.2"/>
<circle cx="1338.35" cy="185.04" r="4.2"/>
<circle cx="1406.43" cy="212.07" r="4.2"/>
<circle cx="1306.38" cy="231.67" r="4.2"/>
<circle cx="1274.4" cy="240.74" r="4.2"/>
<circle cx="1316.69" cy="100.46" r="4.2"/>
</g>
<circle cx="1328.45" cy="161.94" r="7.8" fill="#47545a"/>
</g>
<rect x="1204" y="51.6" width="229.1" height="219.3" fill="none" stroke="#555555" stroke-width="3.6"/>
<rect x="1202.2" y="13" width="232.7" height="39.6" fill="#404040"/>
<text font-size="23.71" text-anchor="middle" fill="#fff" transform="translate(1312.5 41.3) scale(1.05 1)">10 to 14</text>
<line x1="1196.8" y1="99.6" x2="1202.2" y2="99.6" stroke="#555555" stroke-width="3.6"/>
<text font-size="23.71" text-anchor="end" stroke="#000" transform="translate(1180 108.2) scale(1.05 1)">1</text>
<line x1="1196.8" y1="171.6" x2="1202.2" y2="171.6" stroke="#555555" stroke-width="3.6"/>
<text font-size="23.71" text-anchor="end" stroke="#000" transform="translate(1180 180.2) scale(1.05 1)">0</text>
<line x1="1196.8" y1="244.5" x2="1202.2" y2="244.5" stroke="#555555" stroke-width="3.6"/>
<text font-size="23.71" text-anchor="end" stroke="#000" transform="translate(1180 253.1) scale(1.05 1)">−1</text>
<line x1="1204.7" y1="272.7" x2="1204.7" y2="278.2" stroke="#555555" stroke-width="3.6"/>
<text font-size="23.71" text-anchor="end" stroke="#000" transform="translate(1218.1 303) rotate(-45) scale(1.05 1)">−1.5</text>
<line x1="1241.8" y1="272.7" x2="1241.8" y2="278.2" stroke="#555555" stroke-width="3.6"/>
<text font-size="23.71" text-anchor="end" stroke="#000" transform="translate(1255.2 303) rotate(-45) scale(1.05 1)">−1.0</text>
<line x1="1279.6" y1="272.7" x2="1279.6" y2="278.2" stroke="#555555" stroke-width="3.6"/>
<text font-size="23.71" text-anchor="end" stroke="#000" transform="translate(1293 303) rotate(-45) scale(1.05 1)">−0.5</text>
<line x1="1316.3" y1="272.7" x2="1316.3" y2="278.2" stroke="#555555" stroke-width="3.6"/>
<text font-size="23.71" text-anchor="end" stroke="#000" transform="translate(1329.7 303) rotate(-45) scale(1.05 1)">0.0</text>
<line x1="1353.8" y1="272.7" x2="1353.8" y2="278.2" stroke="#555555" stroke-width="3.6"/>
<text font-size="23.71" text-anchor="end" stroke="#000" transform="translate(1367.2 303) rotate(-45) scale(1.05 1)">0.5</text>
<line x1="1391.4" y1="272.7" x2="1391.4" y2="278.2" stroke="#555555" stroke-width="3.6"/>
<text font-size="23.71" text-anchor="end" stroke="#000" transform="translate(1404.8 303) rotate(-45) scale(1.05 1)">1.0</text>
<line x1="1428.7" y1="272.7" x2="1428.7" y2="278.2" stroke="#555555" stroke-width="3.6"/>
<text font-size="23.71" text-anchor="end" stroke="#000" transform="translate(1442.1 303) rotate(-45) scale(1.05 1)">1.5</text>
</g>
<g>
<clipPath id="cp3"><rect x="1532.9" y="52.6" width="230.3" height="218.3"/></clipPath>
<g clip-path="url(#cp3)">
<ellipse cx="1634" cy="161" rx="93" ry="85" fill="#6fb0d0" fill-opacity="0.28" transform="rotate(20 1634 161)"/>
<ellipse cx="1653.5" cy="180.8" rx="102" ry="80" fill="#625f5a" fill-opacity="0.27" transform="rotate(-15 1653.5 180.8)"/>
<g stroke="#4d8fae" stroke-width="1.7" stroke-opacity="0.85">
<line x1="1641.44" y1="61.27" x2="1633.6" y2="158.84"/>
<line x1="1700.23" y1="75.3" x2="1633.6" y2="158.84"/>
<line x1="1667.64" y1="92.83" x2="1633.6" y2="158.84"/>
<line x1="1610.5" y1="102.73" x2="1633.6" y2="158.84"/>
<line x1="1562.84" y1="113.46" x2="1633.6" y2="158.84"/>
<line x1="1574.81" y1="112.43" x2="1633.6" y2="158.84"/>
<line x1="1592.75" y1="112.43" x2="1633.6" y2="158.84"/>
<line x1="1594.4" y1="119.65" x2="1633.6" y2="158.84"/>
<line x1="1600.18" y1="119.24" x2="1633.6" y2="158.84"/>
<line x1="1608.84" y1="118.21" x2="1633.6" y2="158.84"/>
<line x1="1621.63" y1="123.78" x2="1633.6" y2="158.84"/>
<line x1="1632.57" y1="125.84" x2="1633.6" y2="158.84"/>
<line x1="1638.76" y1="123.78" x2="1633.6" y2="158.84"/>
<line x1="1642.88" y1="132.65" x2="1633.6" y2="158.84"/>
<line x1="1690.33" y1="124.81" x2="1633.6" y2="158.84"/>
<line x1="1576.87" y1="137.8" x2="1633.6" y2="158.84"/>
<line x1="1613.38" y1="137.8" x2="1633.6" y2="158.84"/>
<line x1="1659.39" y1="137.8" x2="1633.6" y2="158.84"/>
<line x1="1676.51" y1="137.8" x2="1633.6" y2="158.84"/>
<line x1="1684.55" y1="142.34" x2="1633.6" y2="158.84"/>
<line x1="1670.32" y1="145.44" x2="1633.6" y2="158.84"/>
<line x1="1543.86" y1="152.24" x2="1633.6" y2="158.84"/>
<line x1="1571.3" y1="149.56" x2="1633.6" y2="158.84"/>
<line x1="1602.66" y1="159.46" x2="1633.6" y2="158.84"/>
<line x1="1686.82" y1="157.81" x2="1633.6" y2="158.84"/>
<line x1="1673.83" y1="159.88" x2="1633.6" y2="158.84"/>
<line x1="1702.09" y1="161.94" x2="1633.6" y2="158.84"/>
<line x1="1685.17" y1="164" x2="1633.6" y2="158.84"/>
<line x1="1665.58" y1="164" x2="1633.6" y2="158.84"/>
<line x1="1584.09" y1="171.22" x2="1633.6" y2="158.84"/>
<line x1="1672.8" y1="170.19" x2="1633.6" y2="158.84"/>
<line x1="1683.11" y1="174.32" x2="1633.6" y2="158.84"/>
<line x1="1689.3" y1="179.06" x2="1633.6" y2="158.84"/>
<line x1="1738.19" y1="184.63" x2="1633.6" y2="158.84"/>
<line x1="1610.91" y1="182.16" x2="1633.6" y2="158.84"/>
<line x1="1593.79" y1="185.66" x2="1633.6" y2="158.84"/>
<line x1="1578.93" y1="191.85" x2="1633.6" y2="158.84"/>
<line x1="1600.59" y1="194.95" x2="1633.6" y2="158.84"/>
<line x1="1627" y1="197.01" x2="1633.6" y2="158.84"/>
<line x1="1645.98" y1="199.69" x2="1633.6" y2="158.84"/>
<line x1="1667.64" y1="197.01" x2="1633.6" y2="158.84"/>
<line x1="1673.83" y1="190.82" x2="1633.6" y2="158.84"/>
<line x1="1654.23" y1="187.73" x2="1633.6" y2="158.84"/>
<line x1="1587.8" y1="210.83" x2="1633.6" y2="158.84"/>
<line x1="1592.34" y1="216.61" x2="1633.6" y2="158.84"/>
<line x1="1596.88" y1="214.54" x2="1633.6" y2="158.84"/>
<line x1="1600.59" y1="212.48" x2="1633.6" y2="158.84"/>
<line x1="1602.66" y1="204.23" x2="1633.6" y2="158.84"/>
<line x1="1634.63" y1="209.39" x2="1633.6" y2="158.84"/>
<line x1="1615.03" y1="228.57" x2="1633.6" y2="158.84"/>
<line x1="1606.78" y1="232.7" x2="1633.6" y2="158.84"/>
<line x1="1658.97" y1="234.14" x2="1633.6" y2="158.84"/>
<line x1="1629.47" y1="185.66" x2="1633.6" y2="158.84"/>
<line x1="1656.29" y1="160.91" x2="1633.6" y2="158.84"/>
</g>
<g fill="#5799b8" fill-opacity="0.9">
<circle cx="1641.44" cy="61.27" r="4.1"/>
<circle cx="1700.23" cy="75.3" r="4.1"/>
<circle cx="1667.64" cy="92.83" r="4.1"/>
<circle cx="1610.5" cy="102.73" r="4.1"/>
<circle cx="1562.84" cy="113.46" r="4.1"/>
<circle cx="1574.81" cy="112.43" r="4.1"/>
<circle cx="1592.75" cy="112.43" r="4.1"/>
<circle cx="1594.4" cy="119.65" r="4.1"/>
<circle cx="1600.18" cy="119.24" r="4.1"/>
<circle cx="1608.84" cy="118.21" r="4.1"/>
<circle cx="1621.63" cy="123.78" r="4.1"/>
<circle cx="1632.57" cy="125.84" r="4.1"/>
<circle cx="1638.76" cy="123.78" r="4.1"/>
<circle cx="1642.88" cy="132.65" r="4.1"/>
<circle cx="1690.33" cy="124.81" r="4.1"/>
<circle cx="1576.87" cy="137.8" r="4.1"/>
<circle cx="1613.38" cy="137.8" r="4.1"/>
<circle cx="1659.39" cy="137.8" r="4.1"/>
<circle cx="1676.51" cy="137.8" r="4.1"/>
<circle cx="1684.55" cy="142.34" r="4.1"/>
<circle cx="1670.32" cy="145.44" r="4.1"/>
<circle cx="1543.86" cy="152.24" r="4.1"/>
<circle cx="1571.3" cy="149.56" r="4.1"/>
<circle cx="1602.66" cy="159.46" r="4.1"/>
<circle cx="1686.82" cy="157.81" r="4.1"/>
<circle cx="1673.83" cy="159.88" r="4.1"/>
<circle cx="1702.09" cy="161.94" r="4.1"/>
<circle cx="1685.17" cy="164" r="4.1"/>
<circle cx="1665.58" cy="164" r="4.1"/>
<circle cx="1584.09" cy="171.22" r="4.1"/>
<circle cx="1672.8" cy="170.19" r="4.1"/>
<circle cx="1683.11" cy="174.32" r="4.1"/>
<circle cx="1689.3" cy="179.06" r="4.1"/>
<circle cx="1738.19" cy="184.63" r="4.1"/>
<circle cx="1610.91" cy="182.16" r="4.1"/>
<circle cx="1593.79" cy="185.66" r="4.1"/>
<circle cx="1578.93" cy="191.85" r="4.1"/>
<circle cx="1600.59" cy="194.95" r="4.1"/>
<circle cx="1627" cy="197.01" r="4.1"/>
<circle cx="1645.98" cy="199.69" r="4.1"/>
<circle cx="1667.64" cy="197.01" r="4.1"/>
<circle cx="1673.83" cy="190.82" r="4.1"/>
<circle cx="1654.23" cy="187.73" r="4.1"/>
<circle cx="1587.8" cy="210.83" r="4.1"/>
<circle cx="1592.34" cy="216.61" r="4.1"/>
<circle cx="1596.88" cy="214.54" r="4.1"/>
<circle cx="1600.59" cy="212.48" r="4.1"/>
<circle cx="1602.66" cy="204.23" r="4.1"/>
<circle cx="1634.63" cy="209.39" r="4.1"/>
<circle cx="1615.03" cy="228.57" r="4.1"/>
<circle cx="1606.78" cy="232.7" r="4.1"/>
<circle cx="1658.97" cy="234.14" r="4.1"/>
<circle cx="1629.47" cy="185.66" r="4.1"/>
<circle cx="1656.29" cy="160.91" r="4.1"/>
</g>
<circle cx="1633.6" cy="158.84" r="7.2" fill="#5799b8"/>
<g stroke="#434f55" stroke-width="1.5" stroke-opacity="0.9">
<line x1="1670.73" y1="84.17" x2="1654.23" y2="176.79"/>
<line x1="1678.57" y1="121.71" x2="1654.23" y2="176.79"/>
<line x1="1587.18" y1="138.83" x2="1654.23" y2="176.79"/>
<line x1="1707.25" y1="172.87" x2="1654.23" y2="176.79"/>
<line x1="1675.89" y1="182.98" x2="1654.23" y2="176.79"/>
<line x1="1660.42" y1="195.98" x2="1654.23" y2="176.79"/>
<line x1="1703.12" y1="202.17" x2="1654.23" y2="176.79"/>
<line x1="1747.06" y1="199.69" x2="1654.23" y2="176.79"/>
<line x1="1593.79" y1="199.07" x2="1654.23" y2="176.79"/>
<line x1="1602.66" y1="204.23" x2="1654.23" y2="176.79"/>
<line x1="1614.41" y1="215.16" x2="1654.23" y2="176.79"/>
<line x1="1635.25" y1="218.67" x2="1654.23" y2="176.79"/>
<line x1="1626.38" y1="229.4" x2="1654.23" y2="176.79"/>
<line x1="1683.11" y1="174.32" x2="1654.23" y2="176.79"/>
</g>
<g fill="#47545a" fill-opacity="0.95">
<circle cx="1670.73" cy="84.17" r="4.2"/>
<circle cx="1678.57" cy="121.71" r="4.2"/>
<circle cx="1587.18" cy="138.83" r="4.2"/>
<circle cx="1707.25" cy="172.87" r="4.2"/>
<circle cx="1675.89" cy="182.98" r="4.2"/>
<circle cx="1660.42" cy="195.98" r="4.2"/>
<circle cx="1703.12" cy="202.17" r="4.2"/>
<circle cx="1747.06" cy="199.69" r="4.2"/>
<circle cx="1593.79" cy="199.07" r="4.2"/>
<circle cx="1602.66" cy="204.23" r="4.2"/>
<circle cx="1614.41" cy="215.16" r="4.2"/>
<circle cx="1635.25" cy="218.67" r="4.2"/>
<circle cx="1626.38" cy="229.4" r="4.2"/>
<circle cx="1683.11" cy="174.32" r="4.2"/>
</g>
<circle cx="1654.23" cy="176.79" r="7.8" fill="#47545a"/>
</g>
<rect x="1532.9" y="51.6" width="230.3" height="219.3" fill="none" stroke="#555555" stroke-width="3.6"/>
<rect x="1531.1" y="13" width="233.9" height="39.6" fill="#404040"/>
<text font-size="23.71" text-anchor="middle" fill="#fff" transform="translate(1647.3 41.3) scale(1.05 1)">15 to 19</text>
<line x1="1525.7" y1="101.1" x2="1531.1" y2="101.1" stroke="#555555" stroke-width="3.6"/>
<text font-size="23.71" text-anchor="end" stroke="#000" transform="translate(1512 109.7) scale(1.05 1)">0.4</text>
<line x1="1525.7" y1="164.4" x2="1531.1" y2="164.4" stroke="#555555" stroke-width="3.6"/>
<text font-size="23.71" text-anchor="end" stroke="#000" transform="translate(1512 173) scale(1.05 1)">0.0</text>
<line x1="1525.7" y1="227.3" x2="1531.1" y2="227.3" stroke="#555555" stroke-width="3.6"/>
<text font-size="23.71" text-anchor="end" stroke="#000" transform="translate(1512 235.9) scale(1.05 1)">−0.4</text>
<line x1="1573.4" y1="272.7" x2="1573.4" y2="278.2" stroke="#555555" stroke-width="3.6"/>
<text font-size="23.71" text-anchor="end" stroke="#000" transform="translate(1586.8 303) rotate(-45) scale(1.05 1)">−0.4</text>
<line x1="1638.1" y1="272.7" x2="1638.1" y2="278.2" stroke="#555555" stroke-width="3.6"/>
<text font-size="23.71" text-anchor="end" stroke="#000" transform="translate(1651.5 303) rotate(-45) scale(1.05 1)">0.0</text>
<line x1="1703.1" y1="272.7" x2="1703.1" y2="278.2" stroke="#555555" stroke-width="3.6"/>
<text font-size="23.71" text-anchor="end" stroke="#000" transform="translate(1716.5 303) rotate(-45) scale(1.05 1)">0.4</text>
</g>
<g>
<clipPath id="cp4"><rect x="893.2" y="402.6" width="229.9" height="218.3"/></clipPath>
<g clip-path="url(#cp4)">
<ellipse cx="993.6" cy="498.4" rx="93" ry="85" fill="#6fb0d0" fill-opacity="0.28" transform="rotate(18 993.6 498.4)"/>
<ellipse cx="995.4" cy="510.4" rx="59" ry="90" fill="#625f5a" fill-opacity="0.27" transform="rotate(8 995.4 510.4)"/>
<g stroke="#4d8fae" stroke-width="1.7" stroke-opacity="0.85">
<line x1="977.01" y1="416.63" x2="990.42" y2="497.5"/>
<line x1="1018.68" y1="424.88" x2="990.42" y2="497.5"/>
<line x1="1029.2" y1="435.2" x2="990.42" y2="497.5"/>
<line x1="1040.96" y1="447.58" x2="990.42" y2="497.5"/>
<line x1="986.29" y1="442.83" x2="990.42" y2="497.5"/>
<line x1="981.75" y1="449.02" x2="990.42" y2="497.5"/>
<line x1="1037.86" y1="456.65" x2="990.42" y2="497.5"/>
<line x1="953.29" y1="455.62" x2="990.42" y2="497.5"/>
<line x1="962.57" y1="456.65" x2="990.42" y2="497.5"/>
<line x1="999.7" y1="456.86" x2="990.42" y2="497.5"/>
<line x1="986.29" y1="457.89" x2="990.42" y2="497.5"/>
<line x1="933.69" y1="462.43" x2="990.42" y2="497.5"/>
<line x1="958.44" y1="467.17" x2="990.42" y2="497.5"/>
<line x1="949.78" y1="470.68" x2="990.42" y2="497.5"/>
<line x1="969.17" y1="470.68" x2="990.42" y2="497.5"/>
<line x1="984.85" y1="472.12" x2="990.42" y2="497.5"/>
<line x1="1021.77" y1="469.65" x2="990.42" y2="497.5"/>
<line x1="1035.8" y1="473.78" x2="990.42" y2="497.5"/>
<line x1="1010.43" y1="474.39" x2="990.42" y2="497.5"/>
<line x1="942.56" y1="480.38" x2="990.42" y2="497.5"/>
<line x1="966.28" y1="480.58" x2="990.42" y2="497.5"/>
<line x1="979.07" y1="481" x2="990.42" y2="497.5"/>
<line x1="916.77" y1="482.03" x2="990.42" y2="497.5"/>
<line x1="1026.11" y1="486.77" x2="990.42" y2="497.5"/>
<line x1="1093.98" y1="493.79" x2="990.42" y2="497.5"/>
<line x1="1114.19" y1="504.1" x2="990.42" y2="497.5"/>
<line x1="1041.37" y1="500.18" x2="990.42" y2="497.5"/>
<line x1="1031.68" y1="498.94" x2="990.42" y2="497.5"/>
<line x1="921.31" y1="509.26" x2="990.42" y2="497.5"/>
<line x1="946.68" y1="504.72" x2="990.42" y2="497.5"/>
<line x1="970.82" y1="509.46" x2="990.42" y2="497.5"/>
<line x1="1026.93" y1="514.41" x2="990.42" y2="497.5"/>
<line x1="1088.82" y1="525.35" x2="990.42" y2="497.5"/>
<line x1="1058.08" y1="529.06" x2="990.42" y2="497.5"/>
<line x1="937.4" y1="527.82" x2="990.42" y2="497.5"/>
<line x1="973.5" y1="522.87" x2="990.42" y2="497.5"/>
<line x1="1017.24" y1="527.41" x2="990.42" y2="497.5"/>
<line x1="1037.86" y1="527.41" x2="990.42" y2="497.5"/>
<line x1="1036.42" y1="533.19" x2="990.42" y2="497.5"/>
<line x1="967.73" y1="532.98" x2="990.42" y2="497.5"/>
<line x1="991.45" y1="529.47" x2="990.42" y2="497.5"/>
<line x1="940.91" y1="545.36" x2="990.42" y2="497.5"/>
<line x1="1023.42" y1="543.3" x2="990.42" y2="497.5"/>
<line x1="1010.02" y1="549.69" x2="990.42" y2="497.5"/>
<line x1="982.78" y1="552.17" x2="990.42" y2="497.5"/>
<line x1="975.56" y1="560.42" x2="990.42" y2="497.5"/>
<line x1="1023.84" y1="561.04" x2="990.42" y2="497.5"/>
<line x1="941.53" y1="570.73" x2="990.42" y2="497.5"/>
<line x1="976.6" y1="611.99" x2="990.42" y2="497.5"/>
<line x1="1004.86" y1="519.16" x2="990.42" y2="497.5"/>
<line x1="996.61" y1="542.88" x2="990.42" y2="497.5"/>
</g>
<g fill="#5799b8" fill-opacity="0.9">
<circle cx="977.01" cy="416.63" r="4.1"/>
<circle cx="1018.68" cy="424.88" r="4.1"/>
<circle cx="1029.2" cy="435.2" r="4.1"/>
<circle cx="1040.96" cy="447.58" r="4.1"/>
<circle cx="986.29" cy="442.83" r="4.1"/>
<circle cx="981.75" cy="449.02" r="4.1"/>
<circle cx="1037.86" cy="456.65" r="4.1"/>
<circle cx="953.29" cy="455.62" r="4.1"/>
<circle cx="962.57" cy="456.65" r="4.1"/>
<circle cx="999.7" cy="456.86" r="4.1"/>
<circle cx="986.29" cy="457.89" r="4.1"/>
<circle cx="933.69" cy="462.43" r="4.1"/>
<circle cx="958.44" cy="467.17" r="4.1"/>
<circle cx="949.78" cy="470.68" r="4.1"/>
<circle cx="969.17" cy="470.68" r="4.1"/>
<circle cx="984.85" cy="472.12" r="4.1"/>
<circle cx="1021.77" cy="469.65" r="4.1"/>
<circle cx="1035.8" cy="473.78" r="4.1"/>
<circle cx="1010.43" cy="474.39" r="4.1"/>
<circle cx="942.56" cy="480.38" r="4.1"/>
<circle cx="966.28" cy="480.58" r="4.1"/>
<circle cx="979.07" cy="481" r="4.1"/>
<circle cx="916.77" cy="482.03" r="4.1"/>
<circle cx="1026.11" cy="486.77" r="4.1"/>
<circle cx="1093.98" cy="493.79" r="4.1"/>
<circle cx="1114.19" cy="504.1" r="4.1"/>
<circle cx="1041.37" cy="500.18" r="4.1"/>
<circle cx="1031.68" cy="498.94" r="4.1"/>
<circle cx="921.31" cy="509.26" r="4.1"/>
<circle cx="946.68" cy="504.72" r="4.1"/>
<circle cx="970.82" cy="509.46" r="4.1"/>
<circle cx="1026.93" cy="514.41" r="4.1"/>
<circle cx="1088.82" cy="525.35" r="4.1"/>
<circle cx="1058.08" cy="529.06" r="4.1"/>
<circle cx="937.4" cy="527.82" r="4.1"/>
<circle cx="973.5" cy="522.87" r="4.1"/>
<circle cx="1017.24" cy="527.41" r="4.1"/>
<circle cx="1037.86" cy="527.41" r="4.1"/>
<circle cx="1036.42" cy="533.19" r="4.1"/>
<circle cx="967.73" cy="532.98" r="4.1"/>
<circle cx="991.45" cy="529.47" r="4.1"/>
<circle cx="940.91" cy="545.36" r="4.1"/>
<circle cx="1023.42" cy="543.3" r="4.1"/>
<circle cx="1010.02" cy="549.69" r="4.1"/>
<circle cx="982.78" cy="552.17" r="4.1"/>
<circle cx="975.56" cy="560.42" r="4.1"/>
<circle cx="1023.84" cy="561.04" r="4.1"/>
<circle cx="941.53" cy="570.73" r="4.1"/>
<circle cx="976.6" cy="611.99" r="4.1"/>
<circle cx="1004.86" cy="519.16" r="4.1"/>
<circle cx="996.61" cy="542.88" r="4.1"/>
</g>
<circle cx="990.42" cy="497.5" r="7.2" fill="#5799b8"/>
<g stroke="#434f55" stroke-width="1.5" stroke-opacity="0.9">
<line x1="993.1" y1="454.8" x2="994.54" y2="509.88"/>
<line x1="1048.59" y1="485.12" x2="994.54" y2="509.88"/>
<line x1="1013.11" y1="490.9" x2="994.54" y2="509.88"/>
<line x1="1021.36" y1="495.44" x2="994.54" y2="509.88"/>
<line x1="937.81" y1="500.59" x2="994.54" y2="509.88"/>
<line x1="960.09" y1="506.16" x2="994.54" y2="509.88"/>
<line x1="983.2" y1="519.16" x2="994.54" y2="509.88"/>
<line x1="977.63" y1="535.04" x2="994.54" y2="509.88"/>
<line x1="1001.76" y1="548.66" x2="994.54" y2="509.88"/>
<line x1="992.48" y1="557.74" x2="994.54" y2="509.88"/>
<line x1="1003.21" y1="572.38" x2="994.54" y2="509.88"/>
</g>
<g fill="#47545a" fill-opacity="0.95">
<circle cx="993.1" cy="454.8" r="4.2"/>
<circle cx="1048.59" cy="485.12" r="4.2"/>
<circle cx="1013.11" cy="490.9" r="4.2"/>
<circle cx="1021.36" cy="495.44" r="4.2"/>
<circle cx="937.81" cy="500.59" r="4.2"/>
<circle cx="960.09" cy="506.16" r="4.2"/>
<circle cx="983.2" cy="519.16" r="4.2"/>
<circle cx="977.63" cy="535.04" r="4.2"/>
<circle cx="1001.76" cy="548.66" r="4.2"/>
<circle cx="992.48" cy="557.74" r="4.2"/>
<circle cx="1003.21" cy="572.38" r="4.2"/>
</g>
<circle cx="994.54" cy="509.88" r="7.8" fill="#47545a"/>
</g>
<rect x="893.2" y="401.6" width="229.9" height="219.3" fill="none" stroke="#555555" stroke-width="3.6"/>
<rect x="891.4" y="363" width="233.5" height="39.6" fill="#404040"/>
<text font-size="19.05" text-anchor="middle" fill="#fff" transform="translate(1001.2 390.3) scale(1.05 1)">20 to 24</text>
<line x1="886" y1="448" x2="891.4" y2="448" stroke="#555555" stroke-width="3.6"/>
<text font-size="23.71" text-anchor="end" stroke="#000" transform="translate(871 456.6) scale(1.05 1)">0.3</text>
<line x1="886" y1="501.6" x2="891.4" y2="501.6" stroke="#555555" stroke-width="3.6"/>
<text font-size="23.71" text-anchor="end" stroke="#000" transform="translate(871 510.2) scale(1.05 1)">0.0</text>
<line x1="886" y1="554.9" x2="891.4" y2="554.9" stroke="#555555" stroke-width="3.6"/>
<text font-size="23.71" text-anchor="end" stroke="#000" transform="translate(871 563.5) scale(1.05 1)">−0.3</text>
<line x1="886" y1="608.5" x2="891.4" y2="608.5" stroke="#555555" stroke-width="3.6"/>
<text font-size="23.71" text-anchor="end" stroke="#000" transform="translate(871 617.1) scale(1.05 1)">−0.6</text>
<line x1="910" y1="622.7" x2="910" y2="628.2" stroke="#555555" stroke-width="3.6"/>
<text font-size="23.71" text-anchor="end" stroke="#000" transform="translate(924 651) rotate(-45) scale(1.05 1)">−0.50</text>
<line x1="952.9" y1="622.7" x2="952.9" y2="628.2" stroke="#555555" stroke-width="3.6"/>
<text font-size="23.71" text-anchor="end" stroke="#000" transform="translate(966.9 651) rotate(-45) scale(1.05 1)">−0.25</text>
<line x1="995.2" y1="622.7" x2="995.2" y2="628.2" stroke="#555555" stroke-width="3.6"/>
<text font-size="23.71" text-anchor="end" stroke="#000" transform="translate(1009.2 651) rotate(-45) scale(1.05 1)">0.00</text>
<line x1="1037.9" y1="622.7" x2="1037.9" y2="628.2" stroke="#555555" stroke-width="3.6"/>
<text font-size="23.71" text-anchor="end" stroke="#000" transform="translate(1051.9 651) rotate(-45) scale(1.05 1)">0.25</text>
<line x1="1080.8" y1="622.7" x2="1080.8" y2="628.2" stroke="#555555" stroke-width="3.6"/>
<text font-size="23.71" text-anchor="end" stroke="#000" transform="translate(1094.8 651) rotate(-45) scale(1.05 1)">0.50</text>
<line x1="1123.1" y1="622.7" x2="1123.1" y2="628.2" stroke="#555555" stroke-width="3.6"/>
<text font-size="23.71" text-anchor="end" stroke="#000" transform="translate(1137.1 651) rotate(-45) scale(1.05 1)">0.75</text>
</g>
<g>
<clipPath id="cp5"><rect x="1223.2" y="402.6" width="228.9" height="218.3"/></clipPath>
<g clip-path="url(#cp5)">
<ellipse cx="1337.4" cy="511.5" rx="105.9" ry="100" fill="#6fb0d0" fill-opacity="0.28" transform="rotate(0 1337.4 511.5)"/>
<ellipse cx="1350" cy="510.9" rx="75" ry="100" fill="#625f5a" fill-opacity="0.27" transform="rotate(8 1350 510.9)"/>
<g stroke="#4d8fae" stroke-width="1.7" stroke-opacity="0.85">
<line x1="1319.38" y1="427.98" x2="1333.2" y2="509.88"/>
<line x1="1318.14" y1="436.64" x2="1333.2" y2="509.88"/>
<line x1="1406.02" y1="428.39" x2="1333.2" y2="509.88"/>
<line x1="1276.47" y1="444.89" x2="1333.2" y2="509.88"/>
<line x1="1306.79" y1="444.48" x2="1333.2" y2="509.88"/>
<line x1="1317.11" y1="450.67" x2="1333.2" y2="509.88"/>
<line x1="1366.82" y1="452.53" x2="1333.2" y2="509.88"/>
<line x1="1353.83" y1="457.68" x2="1333.2" y2="509.88"/>
<line x1="1360.43" y1="461.4" x2="1333.2" y2="509.88"/>
<line x1="1327.01" y1="458.72" x2="1333.2" y2="509.88"/>
<line x1="1291.32" y1="459.33" x2="1333.2" y2="509.88"/>
<line x1="1300.19" y1="460.99" x2="1333.2" y2="509.88"/>
<line x1="1273.79" y1="461.4" x2="1333.2" y2="509.88"/>
<line x1="1420.87" y1="466.14" x2="1333.2" y2="509.88"/>
<line x1="1253.16" y1="473.36" x2="1333.2" y2="509.88"/>
<line x1="1256.25" y1="489.87" x2="1333.2" y2="509.88"/>
<line x1="1420.87" y1="492.34" x2="1333.2" y2="509.88"/>
<line x1="1389.31" y1="497.5" x2="1333.2" y2="509.88"/>
<line x1="1368.27" y1="500.59" x2="1333.2" y2="509.88"/>
<line x1="1339.39" y1="498.53" x2="1333.2" y2="509.88"/>
<line x1="1291.32" y1="507.19" x2="1333.2" y2="509.88"/>
<line x1="1302.25" y1="506.78" x2="1333.2" y2="509.88"/>
<line x1="1375.9" y1="509.88" x2="1333.2" y2="509.88"/>
<line x1="1396.74" y1="515.65" x2="1333.2" y2="509.88"/>
<line x1="1292.35" y1="517.51" x2="1333.2" y2="509.88"/>
<line x1="1269.87" y1="526.79" x2="1333.2" y2="509.88"/>
<line x1="1412" y1="524.32" x2="1333.2" y2="509.88"/>
<line x1="1403.75" y1="521.22" x2="1333.2" y2="509.88"/>
<line x1="1397.56" y1="524.32" x2="1333.2" y2="509.88"/>
<line x1="1397.56" y1="527.41" x2="1333.2" y2="509.88"/>
<line x1="1379.61" y1="526.38" x2="1333.2" y2="509.88"/>
<line x1="1369.92" y1="527.41" x2="1333.2" y2="509.88"/>
<line x1="1295.45" y1="530.09" x2="1333.2" y2="509.88"/>
<line x1="1284.72" y1="532.98" x2="1333.2" y2="509.88"/>
<line x1="1359.6" y1="531.54" x2="1333.2" y2="509.88"/>
<line x1="1361.05" y1="535.66" x2="1333.2" y2="509.88"/>
<line x1="1325.56" y1="537.31" x2="1333.2" y2="509.88"/>
<line x1="1289.26" y1="541.85" x2="1333.2" y2="509.88"/>
<line x1="1382.29" y1="543.3" x2="1333.2" y2="509.88"/>
<line x1="1282.04" y1="549.48" x2="1333.2" y2="509.88"/>
<line x1="1392.61" y1="551.55" x2="1333.2" y2="509.88"/>
<line x1="1332.78" y1="553.82" x2="1333.2" y2="509.88"/>
<line x1="1286.78" y1="556.29" x2="1333.2" y2="509.88"/>
<line x1="1378.58" y1="555.67" x2="1333.2" y2="509.88"/>
<line x1="1355.89" y1="556.7" x2="1333.2" y2="509.88"/>
<line x1="1316.08" y1="561.04" x2="1333.2" y2="509.88"/>
<line x1="1288.84" y1="561.86" x2="1333.2" y2="509.88"/>
<line x1="1302.25" y1="569.7" x2="1333.2" y2="509.88"/>
<line x1="1287.81" y1="571.35" x2="1333.2" y2="509.88"/>
<line x1="1345.58" y1="576.3" x2="1333.2" y2="509.88"/>
<line x1="1353.83" y1="589.71" x2="1333.2" y2="509.88"/>
<line x1="1312.98" y1="610.96" x2="1333.2" y2="509.88"/>
</g>
<g fill="#5799b8" fill-opacity="0.9">
<circle cx="1319.38" cy="427.98" r="4.1"/>
<circle cx="1318.14" cy="436.64" r="4.1"/>
<circle cx="1406.02" cy="428.39" r="4.1"/>
<circle cx="1276.47" cy="444.89" r="4.1"/>
<circle cx="1306.79" cy="444.48" r="4.1"/>
<circle cx="1317.11" cy="450.67" r="4.1"/>
<circle cx="1366.82" cy="452.53" r="4.1"/>
<circle cx="1353.83" cy="457.68" r="4.1"/>
<circle cx="1360.43" cy="461.4" r="4.1"/>
<circle cx="1327.01" cy="458.72" r="4.1"/>
<circle cx="1291.32" cy="459.33" r="4.1"/>
<circle cx="1300.19" cy="460.99" r="4.1"/>
<circle cx="1273.79" cy="461.4" r="4.1"/>
<circle cx="1420.87" cy="466.14" r="4.1"/>
<circle cx="1253.16" cy="473.36" r="4.1"/>
<circle cx="1256.25" cy="489.87" r="4.1"/>
<circle cx="1420.87" cy="492.34" r="4.1"/>
<circle cx="1389.31" cy="497.5" r="4.1"/>
<circle cx="1368.27" cy="500.59" r="4.1"/>
<circle cx="1339.39" cy="498.53" r="4.1"/>
<circle cx="1291.32" cy="507.19" r="4.1"/>
<circle cx="1302.25" cy="506.78" r="4.1"/>
<circle cx="1375.9" cy="509.88" r="4.1"/>
<circle cx="1396.74" cy="515.65" r="4.1"/>
<circle cx="1292.35" cy="517.51" r="4.1"/>
<circle cx="1269.87" cy="526.79" r="4.1"/>
<circle cx="1412" cy="524.32" r="4.1"/>
<circle cx="1403.75" cy="521.22" r="4.1"/>
<circle cx="1397.56" cy="524.32" r="4.1"/>
<circle cx="1397.56" cy="527.41" r="4.1"/>
<circle cx="1379.61" cy="526.38" r="4.1"/>
<circle cx="1369.92" cy="527.41" r="4.1"/>
<circle cx="1295.45" cy="530.09" r="4.1"/>
<circle cx="1284.72" cy="532.98" r="4.1"/>
<circle cx="1359.6" cy="531.54" r="4.1"/>
<circle cx="1361.05" cy="535.66" r="4.1"/>
<circle cx="1325.56" cy="537.31" r="4.1"/>
<circle cx="1289.26" cy="541.85" r="4.1"/>
<circle cx="1382.29" cy="543.3" r="4.1"/>
<circle cx="1282.04" cy="549.48" r="4.1"/>
<circle cx="1392.61" cy="551.55" r="4.1"/>
<circle cx="1332.78" cy="553.82" r="4.1"/>
<circle cx="1286.78" cy="556.29" r="4.1"/>
<circle cx="1378.58" cy="555.67" r="4.1"/>
<circle cx="1355.89" cy="556.7" r="4.1"/>
<circle cx="1316.08" cy="561.04" r="4.1"/>
<circle cx="1288.84" cy="561.86" r="4.1"/>
<circle cx="1302.25" cy="569.7" r="4.1"/>
<circle cx="1287.81" cy="571.35" r="4.1"/>
<circle cx="1345.58" cy="576.3" r="4.1"/>
<circle cx="1353.83" cy="589.71" r="4.1"/>
<circle cx="1312.98" cy="610.96" r="4.1"/>
</g>
<circle cx="1333.2" cy="509.88" r="7.2" fill="#5799b8"/>
<g stroke="#434f55" stroke-width="1.5" stroke-opacity="0.9">
<line x1="1350.73" y1="424.88" x2="1349.08" y2="509.88"/>
<line x1="1370.74" y1="469.03" x2="1349.08" y2="509.88"/>
<line x1="1350.32" y1="485.53" x2="1349.08" y2="509.88"/>
<line x1="1378.17" y1="490.28" x2="1349.08" y2="509.88"/>
<line x1="1311.54" y1="499.97" x2="1349.08" y2="509.88"/>
<line x1="1312.16" y1="514.62" x2="1349.08" y2="509.88"/>
<line x1="1351.76" y1="532.16" x2="1349.08" y2="509.88"/>
<line x1="1354.24" y1="538.34" x2="1349.08" y2="509.88"/>
<line x1="1387.86" y1="535.25" x2="1349.08" y2="509.88"/>
<line x1="1367.24" y1="558.35" x2="1349.08" y2="509.88"/>
<line x1="1292.97" y1="556.91" x2="1349.08" y2="509.88"/>
</g>
<g fill="#47545a" fill-opacity="0.95">
<circle cx="1350.73" cy="424.88" r="4.2"/>
<circle cx="1370.74" cy="469.03" r="4.2"/>
<circle cx="1350.32" cy="485.53" r="4.2"/>
<circle cx="1378.17" cy="490.28" r="4.2"/>
<circle cx="1311.54" cy="499.97" r="4.2"/>
<circle cx="1312.16" cy="514.62" r="4.2"/>
<circle cx="1351.76" cy="532.16" r="4.2"/>
<circle cx="1354.24" cy="538.34" r="4.2"/>
<circle cx="1387.86" cy="535.25" r="4.2"/>
<circle cx="1367.24" cy="558.35" r="4.2"/>
<circle cx="1292.97" cy="556.91" r="4.2"/>
</g>
<circle cx="1349.08" cy="509.88" r="7.8" fill="#47545a"/>
</g>
<rect x="1223.2" y="401.6" width="228.9" height="219.3" fill="none" stroke="#555555" stroke-width="3.6"/>
<rect x="1221.4" y="363" width="232.5" height="39.6" fill="#404040"/>
<text font-size="19.05" text-anchor="middle" fill="#fff" transform="translate(1335.5 390.3) scale(1.05 1)">25 to 29</text>
<line x1="1216" y1="429.4" x2="1221.4" y2="429.4" stroke="#555555" stroke-width="3.6"/>
<text font-size="23.71" text-anchor="end" stroke="#000" transform="translate(1199.3 438) scale(1.05 1)">1.0</text>
<line x1="1216" y1="470.1" x2="1221.4" y2="470.1" stroke="#555555" stroke-width="3.6"/>
<text font-size="23.71" text-anchor="end" stroke="#000" transform="translate(1199.3 478.7) scale(1.05 1)">0.5</text>
<line x1="1216" y1="510.3" x2="1221.4" y2="510.3" stroke="#555555" stroke-width="3.6"/>
<text font-size="23.71" text-anchor="end" stroke="#000" transform="translate(1199.3 518.9) scale(1.05 1)">0.0</text>
<line x1="1216" y1="550.5" x2="1221.4" y2="550.5" stroke="#555555" stroke-width="3.6"/>
<text font-size="23.71" text-anchor="end" stroke="#000" transform="translate(1199.3 559.1) scale(1.05 1)">−0.5</text>
<line x1="1216" y1="591" x2="1221.4" y2="591" stroke="#555555" stroke-width="3.6"/>
<text font-size="23.71" text-anchor="end" stroke="#000" transform="translate(1199.3 599.6) scale(1.05 1)">−1.0</text>
<line x1="1221.8" y1="622.7" x2="1221.8" y2="628.2" stroke="#555555" stroke-width="3.6"/>
<text font-size="23.71" text-anchor="end" stroke="#000" transform="translate(1235.8 651) rotate(-45) scale(1.05 1)">−1.5</text>
<line x1="1260.4" y1="622.7" x2="1260.4" y2="628.2" stroke="#555555" stroke-width="3.6"/>
<text font-size="23.71" text-anchor="end" stroke="#000" transform="translate(1274.4 651) rotate(-45) scale(1.05 1)">−1.0</text>
<line x1="1299.2" y1="622.7" x2="1299.2" y2="628.2" stroke="#555555" stroke-width="3.6"/>
<text font-size="23.71" text-anchor="end" stroke="#000" transform="translate(1313.2 651) rotate(-45) scale(1.05 1)">−0.5</text>
<line x1="1338.4" y1="622.7" x2="1338.4" y2="628.2" stroke="#555555" stroke-width="3.6"/>
<text font-size="23.71" text-anchor="end" stroke="#000" transform="translate(1352.4 651) rotate(-45) scale(1.05 1)">0.0</text>
<line x1="1377" y1="622.7" x2="1377" y2="628.2" stroke="#555555" stroke-width="3.6"/>
<text font-size="23.71" text-anchor="end" stroke="#000" transform="translate(1391 651) rotate(-45) scale(1.05 1)">0.5</text>
<line x1="1415.7" y1="622.7" x2="1415.7" y2="628.2" stroke="#555555" stroke-width="3.6"/>
<text font-size="23.71" text-anchor="end" stroke="#000" transform="translate(1429.7 651) rotate(-45) scale(1.05 1)">1.0</text>
</g>
<g>
<clipPath id="cp6"><rect x="1529.8" y="402.6" width="229.3" height="218.3"/></clipPath>
<g clip-path="url(#cp6)">
<ellipse cx="1655.3" cy="529.8" rx="95" ry="59" fill="#6fb0d0" fill-opacity="0.28" transform="rotate(-5 1655.3 529.8)"/>
<ellipse cx="1639.8" cy="511.9" rx="135" ry="47" fill="#625f5a" fill-opacity="0.27" transform="rotate(45 1639.8 511.9)"/>
<g stroke="#4d8fae" stroke-width="1.7" stroke-opacity="0.85">
<line x1="1663.51" y1="471.3" x2="1656.29" y2="529.47"/>
<line x1="1664.96" y1="479.35" x2="1656.29" y2="529.47"/>
<line x1="1642.88" y1="480.38" x2="1656.29" y2="529.47"/>
<line x1="1649.69" y1="483.06" x2="1656.29" y2="529.47"/>
<line x1="1705.18" y1="476.25" x2="1656.29" y2="529.47"/>
<line x1="1657.74" y1="498.12" x2="1656.29" y2="529.47"/>
<line x1="1663.92" y1="502.66" x2="1656.29" y2="529.47"/>
<line x1="1689.92" y1="498.53" x2="1656.29" y2="529.47"/>
<line x1="1735.1" y1="503.69" x2="1656.29" y2="529.47"/>
<line x1="1584.09" y1="508.43" x2="1656.29" y2="529.47"/>
<line x1="1613.38" y1="511.94" x2="1656.29" y2="529.47"/>
<line x1="1695.49" y1="512.97" x2="1656.29" y2="529.47"/>
<line x1="1671.76" y1="517.51" x2="1656.29" y2="529.47"/>
<line x1="1712.4" y1="520.19" x2="1656.29" y2="529.47"/>
<line x1="1720.65" y1="525.76" x2="1656.29" y2="529.47"/>
<line x1="1616.68" y1="526.38" x2="1656.29" y2="529.47"/>
<line x1="1634.63" y1="527" x2="1656.29" y2="529.47"/>
<line x1="1575.22" y1="531.54" x2="1656.29" y2="529.47"/>
<line x1="1601.62" y1="530.92" x2="1656.29" y2="529.47"/>
<line x1="1612.97" y1="533.6" x2="1656.29" y2="529.47"/>
<line x1="1619.57" y1="537.31" x2="1656.29" y2="529.47"/>
<line x1="1685.79" y1="531.12" x2="1656.29" y2="529.47"/>
<line x1="1698.17" y1="530.09" x2="1656.29" y2="529.47"/>
<line x1="1695.49" y1="540.2" x2="1656.29" y2="529.47"/>
<line x1="1609.46" y1="543.5" x2="1656.29" y2="529.47"/>
<line x1="1621.22" y1="543.5" x2="1656.29" y2="529.47"/>
<line x1="1632.57" y1="540.82" x2="1656.29" y2="529.47"/>
<line x1="1633.6" y1="545.36" x2="1656.29" y2="529.47"/>
<line x1="1644.95" y1="535.66" x2="1656.29" y2="529.47"/>
<line x1="1736.33" y1="544.33" x2="1656.29" y2="529.47"/>
<line x1="1683.73" y1="547.63" x2="1656.29" y2="529.47"/>
<line x1="1704.77" y1="550.72" x2="1656.29" y2="529.47"/>
<line x1="1702.09" y1="554.23" x2="1656.29" y2="529.47"/>
<line x1="1604.72" y1="552.17" x2="1656.29" y2="529.47"/>
<line x1="1616.68" y1="556.29" x2="1656.29" y2="529.47"/>
<line x1="1651.75" y1="558.35" x2="1656.29" y2="529.47"/>
<line x1="1649.07" y1="560.42" x2="1656.29" y2="529.47"/>
<line x1="1690.74" y1="564.54" x2="1656.29" y2="529.47"/>
<line x1="1681.46" y1="571.76" x2="1656.29" y2="529.47"/>
<line x1="1614.41" y1="582.7" x2="1656.29" y2="529.47"/>
</g>
<g fill="#5799b8" fill-opacity="0.9">
<circle cx="1663.51" cy="471.3" r="4.1"/>
<circle cx="1664.96" cy="479.35" r="4.1"/>
<circle cx="1642.88" cy="480.38" r="4.1"/>
<circle cx="1649.69" cy="483.06" r="4.1"/>
<circle cx="1705.18" cy="476.25" r="4.1"/>
<circle cx="1657.74" cy="498.12" r="4.1"/>
<circle cx="1663.92" cy="502.66" r="4.1"/>
<circle cx="1689.92" cy="498.53" r="4.1"/>
<circle cx="1735.1" cy="503.69" r="4.1"/>
<circle cx="1584.09" cy="508.43" r="4.1"/>
<circle cx="1613.38" cy="511.94" r="4.1"/>
<circle cx="1695.49" cy="512.97" r="4.1"/>
<circle cx="1671.76" cy="517.51" r="4.1"/>
<circle cx="1712.4" cy="520.19" r="4.1"/>
<circle cx="1720.65" cy="525.76" r="4.1"/>
<circle cx="1616.68" cy="526.38" r="4.1"/>
<circle cx="1634.63" cy="527" r="4.1"/>
<circle cx="1575.22" cy="531.54" r="4.1"/>
<circle cx="1601.62" cy="530.92" r="4.1"/>
<circle cx="1612.97" cy="533.6" r="4.1"/>
<circle cx="1619.57" cy="537.31" r="4.1"/>
<circle cx="1685.79" cy="531.12" r="4.1"/>
<circle cx="1698.17" cy="530.09" r="4.1"/>
<circle cx="1695.49" cy="540.2" r="4.1"/>
<circle cx="1609.46" cy="543.5" r="4.1"/>
<circle cx="1621.22" cy="543.5" r="4.1"/>
<circle cx="1632.57" cy="540.82" r="4.1"/>
<circle cx="1633.6" cy="545.36" r="4.1"/>
<circle cx="1644.95" cy="535.66" r="4.1"/>
<circle cx="1736.33" cy="544.33" r="4.1"/>
<circle cx="1683.73" cy="547.63" r="4.1"/>
<circle cx="1704.77" cy="550.72" r="4.1"/>
<circle cx="1702.09" cy="554.23" r="4.1"/>
<circle cx="1604.72" cy="552.17" r="4.1"/>
<circle cx="1616.68" cy="556.29" r="4.1"/>
<circle cx="1651.75" cy="558.35" r="4.1"/>
<circle cx="1649.07" cy="560.42" r="4.1"/>
<circle cx="1690.74" cy="564.54" r="4.1"/>
<circle cx="1681.46" cy="571.76" r="4.1"/>
<circle cx="1614.41" cy="582.7" r="4.1"/>
</g>
<circle cx="1656.29" cy="529.47" r="7.2" fill="#5799b8"/>
<g stroke="#434f55" stroke-width="1.5" stroke-opacity="0.9">
<line x1="1621.84" y1="486.57" x2="1637.11" y2="512.35"/>
<line x1="1638.14" y1="491.31" x2="1637.11" y2="512.35"/>
<line x1="1588.63" y1="497.09" x2="1637.11" y2="512.35"/>
<line x1="1674.86" y1="561.04" x2="1637.11" y2="512.35"/>
</g>
<g fill="#47545a" fill-opacity="0.95">
<circle cx="1621.84" cy="486.57" r="4.2"/>
<circle cx="1638.14" cy="491.31" r="4.2"/>
<circle cx="1588.63" cy="497.09" r="4.2"/>
<circle cx="1674.86" cy="561.04" r="4.2"/>
</g>
<circle cx="1637.11" cy="512.35" r="7.8" fill="#47545a"/>
</g>
<rect x="1529.8" y="401.6" width="229.3" height="219.3" fill="none" stroke="#555555" stroke-width="3.6"/>
<rect x="1528" y="363" width="232.9" height="39.6" fill="#404040"/>
<text font-size="19.05" text-anchor="middle" fill="#fff" transform="translate(1642.7 390.3) scale(1.05 1)">30 to 34</text>
<line x1="1522.6" y1="422.6" x2="1528" y2="422.6" stroke="#555555" stroke-width="3.6"/>
<text font-size="23.71" text-anchor="end" stroke="#000" transform="translate(1509 431.2) scale(1.05 1)">2</text>
<line x1="1522.6" y1="474.8" x2="1528" y2="474.8" stroke="#555555" stroke-width="3.6"/>
<text font-size="23.71" text-anchor="end" stroke="#000" transform="translate(1509 483.4) scale(1.05 1)">1</text>
<line x1="1522.6" y1="527" x2="1528" y2="527" stroke="#555555" stroke-width="3.6"/>
<text font-size="23.71" text-anchor="end" stroke="#000" transform="translate(1509 535.6) scale(1.05 1)">0</text>
<line x1="1522.6" y1="579.4" x2="1528" y2="579.4" stroke="#555555" stroke-width="3.6"/>
<text font-size="23.71" text-anchor="end" stroke="#000" transform="translate(1509 588) scale(1.05 1)">−1</text>
<line x1="1584.7" y1="622.7" x2="1584.7" y2="628.2" stroke="#555555" stroke-width="3.6"/>
<text font-size="23.71" text-anchor="end" stroke="#000" transform="translate(1598.7 651) rotate(-45) scale(1.05 1)">−1</text>
<line x1="1654.2" y1="622.7" x2="1654.2" y2="628.2" stroke="#555555" stroke-width="3.6"/>
<text font-size="23.71" text-anchor="end" stroke="#000" transform="translate(1668.2 651) rotate(-45) scale(1.05 1)">0</text>
<line x1="1724" y1="622.7" x2="1724" y2="628.2" stroke="#555555" stroke-width="3.6"/>
<text font-size="23.71" text-anchor="end" stroke="#000" transform="translate(1738 651) rotate(-45) scale(1.05 1)">1</text>
</g>
<text font-size="23.71" text-anchor="middle" stroke="#000" transform="translate(800.6 334) rotate(-90) scale(1.05 1)">MDS2</text>
<text font-size="23.71" stroke="#000" transform="translate(1304 728.7) scale(1.05 1)">MDS1</text>
<rect x="1793.2" y="361.2" width="30.5" height="29.8" fill="#d3e8f1"/>
<rect x="1793.2" y="391" width="30.5" height="30" fill="#d5d7d7"/>
<line x1="1795.3" y1="376.1" x2="1821.5" y2="376.1" stroke="#5596b4" stroke-width="1.3"/>
<circle cx="1808.3" cy="376.1" r="7.2" fill="#5799b8"/>
<line x1="1795.3" y1="405.9" x2="1821.5" y2="405.9" stroke="#434f55" stroke-width="1.3"/>
<circle cx="1808.3" cy="405.9" r="7.2" fill="#47545a"/>
<text font-size="23.71" stroke="#000" transform="translate(1834.3 385) scale(1.05 1)">EP/ELBW</text>
<text font-size="23.71" stroke="#000" transform="translate(1835.3 415.3) scale(1.05 1)">VP/VLBW</text>
</g>
<g id="panel-c">
<text font-size="40" font-weight="bold" stroke="#000" transform="translate(11 786) scale(1 1)">c</text>
<text font-size="23.71" font-weight="bold" fill="#4d4d4d" stroke="#4d4d4d" transform="translate(190 811.5) scale(1.05 1)">Samples per PGCT</text>
<text font-size="23.71" stroke="#000" transform="translate(201 847) scale(1.05 1)"><tspan font-style="italic">n</tspan> = 698</text>
<rect x="236.5" y="878.3" width="118.3" height="147.4" fill="#98846a" stroke="#585858" stroke-width="2.2"/>
<rect x="236.5" y="1025.7" width="118.3" height="88.1" fill="#bb9a6e" stroke="#585858" stroke-width="2.2"/>
<rect x="236.5" y="1113.8" width="118.3" height="27.3" fill="#eddbb0" stroke="#585858" stroke-width="2.2"/>
<rect x="236.5" y="1141.1" width="118.3" height="49.9" fill="#88c1ba" stroke="#585858" stroke-width="2.2"/>
<rect x="236.5" y="1191" width="118.3" height="48.8" fill="#6a8b82" stroke="#585858" stroke-width="2.2"/>
<rect x="368.4" y="878.3" width="119" height="131.2" fill="#98846a" stroke="#585858" stroke-width="2.2"/>
<rect x="368.4" y="1009.5" width="119" height="48.2" fill="#bb9a6e" stroke="#585858" stroke-width="2.2"/>
<rect x="368.4" y="1057.7" width="119" height="82.1" fill="#eddbb0" stroke="#585858" stroke-width="2.2"/>
<rect x="368.4" y="1139.8" width="119" height="74.9" fill="#88c1ba" stroke="#585858" stroke-width="2.2"/>
<rect x="368.4" y="1214.7" width="119" height="25.1" fill="#6a8b82" stroke="#585858" stroke-width="2.2"/>
<line x1="216" y1="877.3" x2="216" y2="1244.6" stroke="#595959" stroke-width="3.8"/>
<line x1="214.1" y1="1242.7" x2="507.2" y2="1242.7" stroke="#595959" stroke-width="3.8"/>
<line x1="210.6" y1="878.9" x2="216" y2="878.9" stroke="#595959" stroke-width="3"/>
<text font-size="23.71" text-anchor="end" stroke="#000" transform="translate(196.2 885.4) scale(1.05 1)">1.00</text>
<line x1="210.6" y1="968.9" x2="216" y2="968.9" stroke="#595959" stroke-width="3"/>
<text font-size="23.71" text-anchor="end" stroke="#000" transform="translate(196.2 975.4) scale(1.05 1)">0.75</text>
<line x1="210.6" y1="1058.9" x2="216" y2="1058.9" stroke="#595959" stroke-width="3"/>
<text font-size="23.71" text-anchor="end" stroke="#000" transform="translate(196.2 1065.4) scale(1.05 1)">0.50</text>
<line x1="210.6" y1="1148.9" x2="216" y2="1148.9" stroke="#595959" stroke-width="3"/>
<text font-size="23.71" text-anchor="end" stroke="#000" transform="translate(196.2 1155.4) scale(1.05 1)">0.25</text>
<line x1="210.6" y1="1239.2" x2="216" y2="1239.2" stroke="#595959" stroke-width="3"/>
<text font-size="23.71" text-anchor="end" stroke="#000" transform="translate(196.2 1245.7) scale(1.05 1)">0.00</text>
<line x1="295.3" y1="1242.7" x2="295.3" y2="1247.8" stroke="#595959" stroke-width="3"/>
<line x1="427.9" y1="1242.7" x2="427.9" y2="1247.8" stroke="#595959" stroke-width="3"/>
<text font-size="23.71" text-anchor="end" stroke="#000" transform="translate(306.5 1275) rotate(-45) scale(1.05 1)">EP/ELBW</text>
<text font-size="23.71" text-anchor="end" stroke="#000" transform="translate(443 1275) rotate(-45) scale(1.05 1)">VP/VLBW</text>
<text font-size="23.71" text-anchor="middle" stroke="#000" transform="translate(125.7 1059) rotate(-90) scale(1.05 1)">Proportion of samples</text>
<text font-size="23.71" stroke="#000" transform="translate(536 986.3) scale(1.05 1)">PGCT</text>
<rect x="538.1" y="1003.9" width="27.6" height="27.2" fill="#98846a" stroke="#6a6a6a" stroke-width="1.6"/>
<text font-size="23.71" text-anchor="middle" stroke="#000" transform="translate(588.8 1025.7) scale(1.05 1)">1</text>
<rect x="538.1" y="1034.5" width="27.6" height="27.2" fill="#bb9a6e" stroke="#6a6a6a" stroke-width="1.6"/>
<text font-size="23.71" text-anchor="middle" stroke="#000" transform="translate(588.8 1056.3) scale(1.05 1)">2</text>
<rect x="538.1" y="1065.1" width="27.6" height="27.2" fill="#eddbb0" stroke="#6a6a6a" stroke-width="1.6"/>
<text font-size="23.71" text-anchor="middle" stroke="#000" transform="translate(588.8 1086.9) scale(1.05 1)">3</text>
<rect x="538.1" y="1095.7" width="27.6" height="27.2" fill="#88c1ba" stroke="#6a6a6a" stroke-width="1.6"/>
<text font-size="23.71" text-anchor="middle" stroke="#000" transform="translate(588.8 1117.5) scale(1.05 1)">4</text>
<rect x="538.1" y="1126.3" width="27.6" height="27.2" fill="#6a8b82" stroke="#6a6a6a" stroke-width="1.6"/>
<text font-size="23.71" text-anchor="middle" stroke="#000" transform="translate(588.8 1148.1) scale(1.05 1)">5</text>
</g>
<g id="panel-d">
<text font-size="40" font-weight="bold" stroke="#000" transform="translate(779 784) scale(1 1)">d</text>
<text font-size="23.71" font-weight="bold" fill="#4d4d4d" stroke="#4d4d4d" transform="translate(880 794.9) scale(1.05 1)">Responders vs non-responders</text>
<text font-size="23.71" stroke="#000" transform="translate(900 824.9) scale(1.05 1)"><tspan font-style="italic">n</tspan> = 89 infants</text>
<text font-size="23.71" stroke="#000" transform="translate(927.5 852.7) scale(1.05 1)">Chi<tspan font-size="14.5" dy="-9">2</tspan><tspan dy="9">, </tspan><tspan font-style="italic">p</tspan> = 1</text>
<rect x="914.7" y="865.6" width="105.7" height="59.9" fill="#657e76" stroke="#566560" stroke-width="2.4"/>
<rect x="914.7" y="925.5" width="105.7" height="371.5" fill="#74bdaa" stroke="#566560" stroke-width="2.4"/>
<rect x="1032.3" y="865.6" width="106.3" height="58.6" fill="#657e76" stroke="#566560" stroke-width="2.4"/>
<rect x="1032.3" y="924.2" width="106.3" height="372.8" fill="#74bdaa" stroke="#566560" stroke-width="2.4"/>
<line x1="897.6" y1="840.4" x2="897.6" y2="1300.8" stroke="#595959" stroke-width="4.6"/>
<line x1="895.3" y1="1298.4" x2="1155.7" y2="1298.4" stroke="#595959" stroke-width="4.8"/>
<line x1="893.5" y1="866" x2="897.6" y2="866" stroke="#595959" stroke-width="3"/>
<text font-size="23.71" text-anchor="end" stroke="#000" transform="translate(881 873.2) scale(1.05 1)">1.00</text>
<line x1="893.5" y1="973.6" x2="897.6" y2="973.6" stroke="#595959" stroke-width="3"/>
<text font-size="23.71" text-anchor="end" stroke="#000" transform="translate(881 980.8) scale(1.05 1)">0.75</text>
<line x1="893.5" y1="1081.2" x2="897.6" y2="1081.2" stroke="#595959" stroke-width="3"/>
<text font-size="23.71" text-anchor="end" stroke="#000" transform="translate(881 1088.4) scale(1.05 1)">0.50</text>
<line x1="893.5" y1="1188.8" x2="897.6" y2="1188.8" stroke="#595959" stroke-width="3"/>
<text font-size="23.71" text-anchor="end" stroke="#000" transform="translate(881 1196) scale(1.05 1)">0.25</text>
<line x1="893.5" y1="1296.6" x2="897.6" y2="1296.6" stroke="#595959" stroke-width="3"/>
<text font-size="23.71" text-anchor="end" stroke="#000" transform="translate(881 1303.8) scale(1.05 1)">0.00</text>
<line x1="968.2" y1="1298.4" x2="968.2" y2="1303" stroke="#595959" stroke-width="3"/>
<line x1="1085.4" y1="1298.4" x2="1085.4" y2="1303" stroke="#595959" stroke-width="3"/>
<text font-size="23.71" text-anchor="end" stroke="#000" transform="translate(979.5 1329.8) rotate(-45) scale(1.05 1)">EP/ELBW</text>
<text font-size="23.71" text-anchor="end" stroke="#000" transform="translate(1097.5 1329.8) rotate(-45) scale(1.05 1)">VP/VLBW</text>
<text font-size="23.71" text-anchor="middle" stroke="#000" transform="translate(806.6 1069) rotate(-90) scale(1.05 1)">Infants (%)</text>
<rect x="1146" y="1063.3" width="22.5" height="22.6" fill="#657e76" stroke="#566560" stroke-width="1.8"/>
<rect x="1146" y="1087.7" width="22.5" height="22.2" fill="#74bdaa" stroke="#566560" stroke-width="1.8"/>
<text font-size="23.71" stroke="#000" transform="translate(1184.6 1079.6) scale(1.05 1)">non−responder</text>
<text font-size="23.71" stroke="#000" transform="translate(1184.6 1103.7) scale(1.05 1)">responder</text>
<text font-size="23.71" font-weight="bold" fill="#4d4d4d" stroke="#4d4d4d" transform="translate(1523 792.1) scale(1.05 1)">Z–scores</text>
<text font-size="23.71" stroke="#000" transform="translate(1522 820.8) scale(1.05 1)"><tspan font-style="italic">n</tspan> = 89 infants</text>
<text font-size="23.71" stroke="#000" transform="translate(1513.5 850.3) scale(1.05 1)">Wilcoxon, <tspan font-style="italic">p</tspan> = 0.48</text>
<g fill="#5a9dbb" fill-opacity="0.4">
<circle cx="1601.71" cy="862.37" r="5.7"/>
<circle cx="1542.43" cy="937.38" r="5.7"/>
<circle cx="1558.16" cy="952.83" r="5.7"/>
<circle cx="1568.56" cy="952.27" r="5.7"/>
<circle cx="1627.55" cy="955.08" r="5.7"/>
<circle cx="1609.29" cy="971.09" r="5.7"/>
<circle cx="1607.32" cy="985.98" r="5.7"/>
<circle cx="1586.82" cy="998.62" r="5.7"/>
<circle cx="1603.67" cy="999.46" r="5.7"/>
<circle cx="1600.86" cy="1015.48" r="5.7"/>
<circle cx="1588.22" cy="1028.12" r="5.7"/>
<circle cx="1562.38" cy="1030.93" r="5.7"/>
<circle cx="1534.28" cy="1039.92" r="5.7"/>
<circle cx="1574.74" cy="1041.32" r="5.7"/>
<circle cx="1623.34" cy="1040.76" r="5.7"/>
<circle cx="1600.02" cy="1053.4" r="5.7"/>
<circle cx="1594.74" cy="1071.21" r="5.7"/>
<circle cx="1545.71" cy="1077.37" r="5.7"/>
<circle cx="1536.46" cy="1083.82" r="5.7"/>
<circle cx="1645.74" cy="1077.37" r="5.7"/>
<circle cx="1584.38" cy="1095.59" r="5.7"/>
<circle cx="1604.55" cy="1096.43" r="5.7"/>
<circle cx="1557.76" cy="1106.79" r="5.7"/>
<circle cx="1658.35" cy="1105.67" r="5.7"/>
<circle cx="1603.15" cy="1116.88" r="5.7"/>
<circle cx="1647.42" cy="1116.88" r="5.7"/>
<circle cx="1637.33" cy="1125.29" r="5.7"/>
<circle cx="1534.5" cy="1128.65" r="5.7"/>
<circle cx="1546.27" cy="1136.22" r="5.7"/>
<circle cx="1582.13" cy="1135.66" r="5.7"/>
<circle cx="1645.74" cy="1135.1" r="5.7"/>
<circle cx="1657.79" cy="1136.22" r="5.7"/>
<circle cx="1659.75" cy="1143.22" r="5.7"/>
<circle cx="1609.31" cy="1153.31" r="5.7"/>
<circle cx="1546.27" cy="1161.43" r="5.7"/>
<circle cx="1552.71" cy="1163.68" r="5.7"/>
<circle cx="1646.58" cy="1161.43" r="5.7"/>
<circle cx="1591.94" cy="1171.24" r="5.7"/>
<circle cx="1613.8" cy="1172.64" r="5.7"/>
<circle cx="1650.22" cy="1174.32" r="5.7"/>
<circle cx="1542.06" cy="1181.33" r="5.7"/>
<circle cx="1647.98" cy="1186.09" r="5.7"/>
<circle cx="1585.78" cy="1192.54" r="5.7"/>
<circle cx="1638.17" cy="1196.46" r="5.7"/>
<circle cx="1638.74" cy="1199.26" r="5.7"/>
<circle cx="1567.28" cy="1202.34" r="5.7"/>
<circle cx="1533.94" cy="1209.35" r="5.7"/>
<circle cx="1571.49" cy="1209.91" r="5.7"/>
<circle cx="1581.57" cy="1212.71" r="5.7"/>
<circle cx="1584.1" cy="1207.11" r="5.7"/>
<circle cx="1593.34" cy="1207.11" r="5.7"/>
<circle cx="1601.75" cy="1214.11" r="5.7"/>
<circle cx="1605.11" cy="1206.55" r="5.7"/>
<circle cx="1580.73" cy="1227.56" r="5.7"/>
<circle cx="1633.41" cy="1223.92" r="5.7"/>
<circle cx="1638.74" cy="1223.92" r="5.7"/>
<circle cx="1656.39" cy="1223.36" r="5.7"/>
<circle cx="1648.54" cy="1241.57" r="5.7"/>
<circle cx="1656.39" cy="1242.97" r="5.7"/>
<circle cx="1588.3" cy="1254.18" r="5.7"/>
<circle cx="1609.31" cy="1266.79" r="5.7"/>
<circle cx="1585.5" cy="1269.59" r="5.7"/>
</g>
<g fill="#555" fill-opacity="0.38">
<circle cx="1787.12" cy="884.85" r="5.7"/>
<circle cx="1738.52" cy="984.01" r="5.7"/>
<circle cx="1759.59" cy="1019.69" r="5.7"/>
<circle cx="1779.81" cy="1021.1" r="5.7"/>
<circle cx="1743.25" cy="1065.6" r="5.7"/>
<circle cx="1782.48" cy="1060" r="5.7"/>
<circle cx="1799.29" cy="1075.41" r="5.7"/>
<circle cx="1745.49" cy="1089.42" r="5.7"/>
<circle cx="1792.29" cy="1112.4" r="5.7"/>
<circle cx="1802.1" cy="1111" r="5.7"/>
<circle cx="1735.41" cy="1123.05" r="5.7"/>
<circle cx="1741.85" cy="1135.1" r="5.7"/>
<circle cx="1716.63" cy="1142.1" r="5.7"/>
<circle cx="1716.63" cy="1142.1" r="5.7"/>
<circle cx="1734.29" cy="1152.47" r="5.7"/>
<circle cx="1725.04" cy="1161.71" r="5.7"/>
<circle cx="1704.02" cy="1166.48" r="5.7"/>
<circle cx="1715.23" cy="1172.92" r="5.7"/>
<circle cx="1767.91" cy="1174.32" r="5.7"/>
<circle cx="1780.52" cy="1252.78" r="5.7"/>
<circle cx="1698.98" cy="1269.31" r="5.7"/>
<circle cx="1732.6" cy="1275.2" r="5.7"/>
</g>
<line x1="1596.4" y1="938.2" x2="1596.4" y2="1075.7" stroke="#5ba3c4" stroke-width="4.8"/>
<line x1="1596.4" y1="1207.1" x2="1596.4" y2="1269.6" stroke="#5ba3c4" stroke-width="4.8"/>
<rect x="1537.3" y="1075.7" width="116.9" height="131.4" fill="none" stroke="#5ba3c4" stroke-width="5.6"/>
<line x1="1534.5" y1="1141.3" x2="1657" y2="1141.3" stroke="#5ba3c4" stroke-width="10.6"/>
<circle cx="1595.8" cy="862.9" r="2.8" fill="#5b95b0"/>
<line x1="1752.3" y1="984.6" x2="1752.3" y2="1069.2" stroke="#4b5a5e" stroke-width="4.8"/>
<line x1="1752.3" y1="1164.2" x2="1752.3" y2="1275.2" stroke="#4b5a5e" stroke-width="4.8"/>
<rect x="1693.7" y="1069.2" width="117.4" height="95" fill="none" stroke="#4b5a5e" stroke-width="5.6"/>
<line x1="1690.9" y1="1128.7" x2="1813.9" y2="1128.7" stroke="#4b5a5e" stroke-width="10"/>
<circle cx="1752" cy="884.8" r="2.8" fill="#4b5a5e"/>
<line x1="1502.4" y1="842.7" x2="1502.4" y2="1298.4" stroke="#595959" stroke-width="4.2"/>
<line x1="1500.3" y1="1296.3" x2="1845.5" y2="1296.3" stroke="#595959" stroke-width="4.2"/>
<line x1="1498" y1="848.9" x2="1502.4" y2="848.9" stroke="#595959" stroke-width="3"/>
<text font-size="23.71" text-anchor="end" stroke="#000" transform="translate(1486.3 857.3) scale(1.05 1)">3</text>
<line x1="1498" y1="941" x2="1502.4" y2="941" stroke="#595959" stroke-width="3"/>
<text font-size="23.71" text-anchor="end" stroke="#000" transform="translate(1486.3 949.4) scale(1.05 1)">2</text>
<line x1="1498" y1="1033.5" x2="1502.4" y2="1033.5" stroke="#595959" stroke-width="3"/>
<text font-size="23.71" text-anchor="end" stroke="#000" transform="translate(1486.3 1041.9) scale(1.05 1)">1</text>
<line x1="1498" y1="1125.5" x2="1502.4" y2="1125.5" stroke="#595959" stroke-width="3"/>
<text font-size="23.71" text-anchor="end" stroke="#000" transform="translate(1486.3 1133.9) scale(1.05 1)">0</text>
<line x1="1498" y1="1217.8" x2="1502.4" y2="1217.8" stroke="#595959" stroke-width="3"/>
<text font-size="23.71" text-anchor="end" stroke="#000" transform="translate(1486.3 1226.2) scale(1.05 1)">−1</text>
<line x1="1596.1" y1="1296.3" x2="1596.1" y2="1301" stroke="#595959" stroke-width="3"/>
<line x1="1752.5" y1="1296.3" x2="1752.5" y2="1301" stroke="#595959" stroke-width="3"/>
<text font-size="23.71" text-anchor="end" stroke="#000" transform="translate(1606 1326) rotate(-45) scale(1.05 1)">EP/ELBW</text>
<text font-size="23.71" text-anchor="end" stroke="#000" transform="translate(1762.5 1326) rotate(-45) scale(1.05 1)">VP/VLBW</text>
<text font-size="23.71" text-anchor="middle" stroke="#000" transform="translate(1436.3 1069.5) rotate(-90) scale(1.05 1)">Z−score</text>
</g>
</svg>
</body>
</html>
